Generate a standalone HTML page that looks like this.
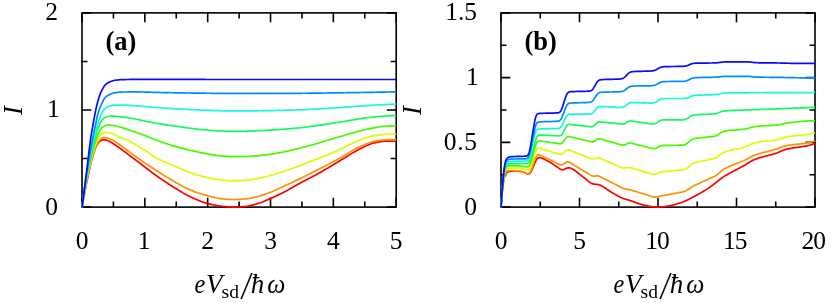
<!DOCTYPE html>
<html><head><meta charset="utf-8"><title>I vs eVsd</title>
<style>
html,body{margin:0;padding:0;background:#fff;}
body{width:831px;height:303px;overflow:hidden;font-family:"Liberation Serif",serif;}
svg{display:block;will-change:transform;}
.t{font-family:"Liberation Serif",serif;font-size:25.5px;fill:#000;}
.ti{font-family:"Liberation Serif",serif;font-style:italic;font-size:27px;fill:#000;}
.ti .sub{font-style:normal;font-size:19.5px;}
.ti .sl{font-style:italic;font-size:31px;}
.pl{font-family:"Liberation Serif",serif;font-weight:bold;font-size:26.5px;fill:#000;}
.c{fill:none;stroke-width:1.7;stroke-linejoin:round;stroke-linecap:butt;}
</style></head><body>
<svg width="831" height="303" viewBox="0 0 831 303">
<rect width="831" height="303" fill="#fff"/>
<g id="pa">
<path d="M82.00,207.1v-9.3M82.00,12.9v9.3M144.84,207.1v-9.3M144.84,12.9v9.3M207.68,207.1v-9.3M207.68,12.9v9.3M270.52,207.1v-9.3M270.52,12.9v9.3M333.36,207.1v-9.3M333.36,12.9v9.3M396.20,207.1v-9.3M396.20,12.9v9.3M113.42,207.1v-5.5M113.42,12.9v5.5M176.26,207.1v-5.5M176.26,12.9v5.5M239.10,207.1v-5.5M239.10,12.9v5.5M301.94,207.1v-5.5M301.94,12.9v5.5M364.78,207.1v-5.5M364.78,12.9v5.5M82.0,207.10h9.3M396.2,207.10h-9.3M82.0,110.00h9.3M396.2,110.00h-9.3M82.0,12.90h9.3M396.2,12.90h-9.3M82.0,158.55h5.5M396.2,158.55h-5.5M82.0,61.45h5.5M396.2,61.45h-5.5" stroke="#000" stroke-width="1.6" fill="none"/>
<rect x="82.0" y="12.9" width="314.20" height="194.20" fill="none" stroke="#000" stroke-width="1.6"/>
<clipPath id="cpa"><rect x="81.20" y="12.10" width="315.80" height="195.80"/></clipPath>
<g clip-path="url(#cpa)">
<path class="c" stroke="#ff0000" d="M82.00,207.10L82.64,203.57L83.28,200.10L83.93,196.67L84.58,193.30L85.23,189.97L85.88,186.68L86.53,183.43L87.19,180.22L87.85,177.03L88.51,173.88L89.17,170.75L89.84,167.65L90.51,164.70L91.17,162.07L91.85,159.60L92.52,157.26L93.20,155.02L93.87,152.78L94.55,150.59L95.24,148.60L95.92,146.99L96.61,145.60L97.30,144.32L97.99,143.22L98.68,142.34L99.38,141.71L100.07,141.14L100.77,140.62L101.48,140.19L102.18,139.88L102.89,139.72L103.59,139.73L104.30,139.81L105.02,139.94L105.73,140.12L106.45,140.33L107.17,140.56L107.89,140.80L108.61,141.05L109.34,141.36L110.07,141.73L110.80,142.14L111.53,142.59L112.26,143.06L113.00,143.53L113.74,143.99L114.48,144.46L115.22,144.96L115.97,145.47L116.71,145.99L117.46,146.51L118.21,147.04L118.97,147.58L119.72,148.11L120.48,148.66L121.24,149.20L122.00,149.76L122.77,150.32L123.53,150.88L124.30,151.45L125.07,152.02L125.85,152.59L126.62,153.17L127.40,153.75L128.18,154.34L128.96,154.93L129.75,155.52L130.53,156.11L131.32,156.71L132.11,157.31L132.90,157.91L133.70,158.51L134.49,159.12L135.29,159.72L136.10,160.33L136.90,160.93L137.70,161.54L138.51,162.15L139.32,162.76L140.13,163.38L140.95,164.00L141.76,164.63L142.58,165.26L143.40,165.90L144.23,166.54L145.05,167.18L145.88,167.82L146.71,168.46L147.54,169.11L148.37,169.75L149.21,170.39L150.05,171.03L150.89,171.66L151.73,172.30L152.57,172.93L153.42,173.55L154.27,174.17L155.12,174.79L155.97,175.39L156.83,176.00L157.69,176.60L158.55,177.20L159.41,177.80L160.27,178.40L161.14,179.00L162.01,179.59L162.88,180.18L163.75,180.78L164.62,181.37L165.50,181.95L166.38,182.54L167.26,183.12L168.14,183.70L169.03,184.27L169.92,184.85L170.81,185.42L171.70,185.98L172.59,186.55L173.49,187.11L174.39,187.66L175.29,188.21L176.19,188.76L177.10,189.31L178.00,189.86L178.91,190.41L179.82,190.96L180.74,191.51L181.65,192.06L182.57,192.60L183.49,193.14L184.41,193.67L185.34,194.19L186.27,194.71L187.19,195.21L188.12,195.70L189.06,196.18L189.99,196.65L190.93,197.09L191.87,197.53L192.81,197.95L193.76,198.37L194.70,198.79L195.65,199.21L196.60,199.62L197.55,200.02L198.51,200.41L199.46,200.80L200.42,201.17L201.38,201.53L202.35,201.88L203.31,202.22L204.28,202.54L205.25,202.84L206.22,203.12L207.20,203.38L208.17,203.63L209.15,203.87L210.13,204.10L211.12,204.33L212.10,204.55L213.09,204.77L214.08,204.97L215.07,205.17L216.06,205.36L217.06,205.54L218.06,205.72L219.06,205.88L220.06,206.02L221.06,206.16L222.07,206.28L223.08,206.39L224.09,206.49L225.10,206.59L226.12,206.68L227.13,206.77L228.15,206.86L229.18,206.94L230.20,207.00L231.23,207.05L232.25,207.09L233.28,207.10L234.32,207.10L235.35,207.08L236.39,207.05L237.43,207.00L238.47,206.95L239.51,206.89L240.56,206.82L241.60,206.74L242.65,206.66L243.71,206.57L244.76,206.48L245.82,206.38L246.87,206.25L247.94,206.09L249.00,205.90L250.06,205.68L251.13,205.43L252.20,205.17L253.27,204.88L254.34,204.58L255.42,204.27L256.50,203.95L257.58,203.62L258.66,203.29L259.74,202.95L260.83,202.58L261.92,202.18L263.01,201.75L264.10,201.30L265.20,200.83L266.30,200.34L267.40,199.85L268.50,199.36L269.60,198.86L270.71,198.38L271.82,197.89L272.93,197.40L274.04,196.91L275.15,196.41L276.27,195.90L277.39,195.38L278.51,194.86L279.63,194.33L280.76,193.78L281.89,193.23L283.02,192.67L284.15,192.09L285.28,191.49L286.42,190.88L287.56,190.26L288.70,189.62L289.84,188.97L290.98,188.32L292.13,187.66L293.28,187.00L294.43,186.34L295.59,185.67L296.74,185.02L297.90,184.36L299.06,183.72L300.22,183.08L301.39,182.46L302.55,181.83L303.72,181.21L304.89,180.60L306.06,179.98L307.24,179.37L308.42,178.76L309.60,178.15L310.78,177.53L311.96,176.91L313.15,176.29L314.34,175.66L315.53,175.02L316.72,174.38L317.91,173.72L319.11,173.06L320.31,172.39L321.51,171.70L322.71,171.01L323.92,170.31L325.13,169.60L326.34,168.88L327.55,168.16L328.76,167.43L329.98,166.70L331.20,165.96L332.42,165.23L333.64,164.49L334.86,163.75L336.09,163.01L337.32,162.27L338.55,161.53L339.79,160.80L341.02,160.05L342.26,159.30L343.50,158.53L344.74,157.75L345.99,156.97L347.23,156.19L348.48,155.41L349.73,154.63L350.98,153.87L352.24,153.11L353.50,152.37L354.76,151.64L356.02,150.94L357.28,150.26L358.55,149.61L359.82,148.99L361.09,148.35L362.36,147.71L363.63,147.07L364.91,146.44L366.19,145.83L367.47,145.24L368.75,144.68L370.04,144.17L371.33,143.70L372.62,143.28L373.91,142.93L375.20,142.65L376.50,142.38L377.80,142.13L379.10,141.88L380.40,141.66L381.70,141.46L383.01,141.30L384.32,141.17L385.63,141.09L386.95,141.07L388.26,141.07L389.58,141.08L390.90,141.09L392.22,141.11L393.54,141.14L394.87,141.20L396.20,141.27"/>
<path class="c" stroke="#ff9100" d="M82.00,207.10L82.64,203.15L83.28,199.30L83.93,195.55L84.58,191.90L85.23,188.36L85.88,184.93L86.53,181.61L87.19,178.39L87.85,175.28L88.51,172.29L89.17,169.41L89.84,166.65L90.51,164.00L91.17,161.47L91.85,159.06L92.52,156.75L93.20,154.55L93.87,152.41L94.55,150.33L95.24,148.37L95.92,146.59L96.61,145.06L97.30,143.67L97.99,142.37L98.68,141.23L99.38,140.31L100.07,139.66L100.77,139.07L101.48,138.54L102.18,138.11L102.89,137.80L103.59,137.68L104.30,137.69L105.02,137.75L105.73,137.85L106.45,137.99L107.17,138.16L107.89,138.35L108.61,138.56L109.34,138.79L110.07,139.03L110.80,139.27L111.53,139.53L112.26,139.86L113.00,140.25L113.74,140.69L114.48,141.16L115.22,141.67L115.97,142.19L116.71,142.71L117.46,143.23L118.21,143.73L118.97,144.24L119.72,144.76L120.48,145.29L121.24,145.84L122.00,146.40L122.77,146.96L123.53,147.53L124.30,148.11L125.07,148.69L125.85,149.28L126.62,149.87L127.40,150.46L128.18,151.05L128.96,151.64L129.75,152.22L130.53,152.80L131.32,153.37L132.11,153.95L132.90,154.53L133.70,155.11L134.49,155.70L135.29,156.28L136.10,156.86L136.90,157.44L137.70,158.02L138.51,158.60L139.32,159.18L140.13,159.75L140.95,160.31L141.76,160.87L142.58,161.43L143.40,161.99L144.23,162.54L145.05,163.09L145.88,163.64L146.71,164.19L147.54,164.74L148.37,165.28L149.21,165.83L150.05,166.37L150.89,166.92L151.73,167.46L152.57,168.01L153.42,168.55L154.27,169.09L155.12,169.64L155.97,170.19L156.83,170.73L157.69,171.28L158.55,171.83L159.41,172.38L160.27,172.94L161.14,173.50L162.01,174.05L162.88,174.61L163.75,175.17L164.62,175.73L165.50,176.28L166.38,176.84L167.26,177.39L168.14,177.94L169.03,178.49L169.92,179.03L170.81,179.57L171.70,180.10L172.59,180.63L173.49,181.15L174.39,181.67L175.29,182.20L176.19,182.73L177.10,183.26L178.00,183.78L178.91,184.30L179.82,184.82L180.74,185.33L181.65,185.84L182.57,186.33L183.49,186.82L184.41,187.29L185.34,187.75L186.27,188.19L187.19,188.62L188.12,189.03L189.06,189.44L189.99,189.84L190.93,190.23L191.87,190.62L192.81,191.00L193.76,191.37L194.70,191.74L195.65,192.10L196.60,192.45L197.55,192.79L198.51,193.12L199.46,193.44L200.42,193.75L201.38,194.05L202.35,194.34L203.31,194.61L204.28,194.88L205.25,195.14L206.22,195.41L207.20,195.67L208.17,195.94L209.15,196.20L210.13,196.45L211.12,196.71L212.10,196.95L213.09,197.19L214.08,197.42L215.07,197.64L216.06,197.84L217.06,198.04L218.06,198.23L219.06,198.40L220.06,198.55L221.06,198.69L222.07,198.81L223.08,198.92L224.09,199.00L225.10,199.09L226.12,199.17L227.13,199.25L228.15,199.33L229.18,199.39L230.20,199.44L231.23,199.49L232.25,199.51L233.28,199.53L234.32,199.52L235.35,199.51L236.39,199.48L237.43,199.44L238.47,199.40L239.51,199.35L240.56,199.29L241.60,199.22L242.65,199.15L243.71,199.07L244.76,198.99L245.82,198.91L246.87,198.80L247.94,198.66L249.00,198.49L250.06,198.31L251.13,198.10L252.20,197.87L253.27,197.63L254.34,197.37L255.42,197.10L256.50,196.83L257.58,196.55L258.66,196.27L259.74,195.99L260.83,195.68L261.92,195.35L263.01,195.00L264.10,194.64L265.20,194.25L266.30,193.85L267.40,193.44L268.50,193.02L269.60,192.60L270.71,192.17L271.82,191.73L272.93,191.26L274.04,190.78L275.15,190.29L276.27,189.78L277.39,189.27L278.51,188.75L279.63,188.22L280.76,187.69L281.89,187.17L283.02,186.65L284.15,186.13L285.28,185.60L286.42,185.08L287.56,184.55L288.70,184.02L289.84,183.49L290.98,182.95L292.13,182.41L293.28,181.87L294.43,181.32L295.59,180.78L296.74,180.22L297.90,179.67L299.06,179.11L300.22,178.54L301.39,177.98L302.55,177.40L303.72,176.83L304.89,176.25L306.06,175.67L307.24,175.08L308.42,174.49L309.60,173.90L310.78,173.31L311.96,172.71L313.15,172.11L314.34,171.50L315.53,170.90L316.72,170.29L317.91,169.67L319.11,169.06L320.31,168.44L321.51,167.83L322.71,167.21L323.92,166.59L325.13,165.96L326.34,165.34L327.55,164.71L328.76,164.08L329.98,163.44L331.20,162.80L332.42,162.16L333.64,161.51L334.86,160.85L336.09,160.19L337.32,159.53L338.55,158.86L339.79,158.18L341.02,157.48L342.26,156.76L343.50,156.01L344.74,155.25L345.99,154.48L347.23,153.70L348.48,152.93L349.73,152.15L350.98,151.38L352.24,150.63L353.50,149.90L354.76,149.19L356.02,148.51L357.28,147.86L358.55,147.26L359.82,146.69L361.09,146.12L362.36,145.56L363.63,145.01L364.91,144.46L366.19,143.94L367.47,143.44L368.75,142.97L370.04,142.53L371.33,142.12L372.62,141.76L373.91,141.45L375.20,141.20L376.50,140.95L377.80,140.71L379.10,140.48L380.40,140.27L381.70,140.08L383.01,139.93L384.32,139.81L385.63,139.73L386.95,139.71L388.26,139.71L389.58,139.71L390.90,139.71L392.22,139.71L393.54,139.71L394.87,139.71L396.20,139.71"/>
<path class="c" stroke="#d7ff00" d="M82.00,207.10L82.64,202.98L83.28,198.92L83.93,194.95L84.58,191.08L85.23,187.31L85.88,183.67L86.53,180.17L87.19,176.82L87.85,173.64L88.51,170.64L89.17,167.80L89.84,165.01L90.51,162.26L91.17,159.57L91.85,156.95L92.52,154.42L93.20,151.98L93.87,149.65L94.55,147.45L95.24,145.37L95.92,143.45L96.61,141.68L97.30,140.09L97.99,138.72L98.68,137.59L99.38,136.58L100.07,135.56L100.77,134.63L101.48,133.91L102.18,133.48L102.89,133.11L103.59,132.80L104.30,132.55L105.02,132.39L105.73,132.33L106.45,132.36L107.17,132.42L107.89,132.51L108.61,132.62L109.34,132.76L110.07,132.91L110.80,133.07L111.53,133.26L112.26,133.52L113.00,133.85L113.74,134.23L114.48,134.64L115.22,135.06L115.97,135.48L116.71,135.88L117.46,136.24L118.21,136.56L118.97,136.85L119.72,137.14L120.48,137.42L121.24,137.69L122.00,137.97L122.77,138.26L123.53,138.55L124.30,138.87L125.07,139.20L125.85,139.54L126.62,139.89L127.40,140.25L128.18,140.62L128.96,141.00L129.75,141.39L130.53,141.79L131.32,142.20L132.11,142.63L132.90,143.06L133.70,143.51L134.49,143.97L135.29,144.43L136.10,144.91L136.90,145.39L137.70,145.88L138.51,146.38L139.32,146.88L140.13,147.38L140.95,147.89L141.76,148.40L142.58,148.91L143.40,149.43L144.23,149.94L145.05,150.46L145.88,151.00L146.71,151.56L147.54,152.12L148.37,152.69L149.21,153.26L150.05,153.84L150.89,154.42L151.73,154.99L152.57,155.55L153.42,156.10L154.27,156.64L155.12,157.16L155.97,157.67L156.83,158.15L157.69,158.60L158.55,159.04L159.41,159.47L160.27,159.90L161.14,160.31L162.01,160.71L162.88,161.11L163.75,161.50L164.62,161.88L165.50,162.26L166.38,162.63L167.26,163.00L168.14,163.36L169.03,163.73L169.92,164.09L170.81,164.46L171.70,164.82L172.59,165.19L173.49,165.56L174.39,165.93L175.29,166.30L176.19,166.69L177.10,167.08L178.00,167.47L178.91,167.86L179.82,168.26L180.74,168.66L181.65,169.06L182.57,169.46L183.49,169.86L184.41,170.25L185.34,170.64L186.27,171.03L187.19,171.41L188.12,171.77L189.06,172.13L189.99,172.48L190.93,172.82L191.87,173.15L192.81,173.46L193.76,173.78L194.70,174.09L195.65,174.40L196.60,174.71L197.55,175.01L198.51,175.30L199.46,175.59L200.42,175.87L201.38,176.15L202.35,176.41L203.31,176.67L204.28,176.91L205.25,177.15L206.22,177.37L207.20,177.58L208.17,177.78L209.15,177.97L210.13,178.16L211.12,178.34L212.10,178.53L213.09,178.70L214.08,178.87L215.07,179.04L216.06,179.19L217.06,179.34L218.06,179.49L219.06,179.62L220.06,179.75L221.06,179.87L222.07,179.98L223.08,180.08L224.09,180.17L225.10,180.26L226.12,180.36L227.13,180.45L228.15,180.53L229.18,180.61L230.20,180.69L231.23,180.75L232.25,180.81L233.28,180.85L234.32,180.87L235.35,180.88L236.39,180.88L237.43,180.85L238.47,180.82L239.51,180.77L240.56,180.71L241.60,180.64L242.65,180.56L243.71,180.47L244.76,180.38L245.82,180.27L246.87,180.17L247.94,180.06L249.00,179.94L250.06,179.83L251.13,179.71L252.20,179.58L253.27,179.42L254.34,179.25L255.42,179.05L256.50,178.84L257.58,178.62L258.66,178.38L259.74,178.13L260.83,177.87L261.92,177.60L263.01,177.33L264.10,177.06L265.20,176.78L266.30,176.51L267.40,176.24L268.50,175.96L269.60,175.67L270.71,175.38L271.82,175.07L272.93,174.76L274.04,174.44L275.15,174.11L276.27,173.78L277.39,173.44L278.51,173.10L279.63,172.75L280.76,172.40L281.89,172.04L283.02,171.68L284.15,171.32L285.28,170.94L286.42,170.56L287.56,170.17L288.70,169.77L289.84,169.37L290.98,168.96L292.13,168.54L293.28,168.12L294.43,167.70L295.59,167.28L296.74,166.84L297.90,166.40L299.06,165.95L300.22,165.50L301.39,165.04L302.55,164.58L303.72,164.11L304.89,163.65L306.06,163.18L307.24,162.72L308.42,162.26L309.60,161.81L310.78,161.36L311.96,160.92L313.15,160.48L314.34,160.04L315.53,159.59L316.72,159.15L317.91,158.69L319.11,158.23L320.31,157.76L321.51,157.28L322.71,156.80L323.92,156.31L325.13,155.82L326.34,155.32L327.55,154.82L328.76,154.32L329.98,153.81L331.20,153.30L332.42,152.78L333.64,152.25L334.86,151.72L336.09,151.19L337.32,150.65L338.55,150.10L339.79,149.55L341.02,148.98L342.26,148.39L343.50,147.78L344.74,147.15L345.99,146.52L347.23,145.87L348.48,145.23L349.73,144.58L350.98,143.95L352.24,143.32L353.50,142.71L354.76,142.12L356.02,141.55L357.28,141.01L358.55,140.51L359.82,140.04L361.09,139.57L362.36,139.10L363.63,138.63L364.91,138.18L366.19,137.74L367.47,137.32L368.75,136.92L370.04,136.56L371.33,136.22L372.62,135.93L373.91,135.68L375.20,135.48L376.50,135.30L377.80,135.13L379.10,134.98L380.40,134.83L381.70,134.70L383.01,134.59L384.32,134.49L385.63,134.42L386.95,134.37L388.26,134.32L389.58,134.28L390.90,134.25L392.22,134.22L393.54,134.20L394.87,134.18L396.20,134.18"/>
<path class="c" stroke="#46fa00" d="M82.00,207.10L82.64,202.79L83.28,198.55L83.93,194.41L84.58,190.37L85.23,186.44L85.88,182.64L86.53,178.98L87.19,175.47L87.85,172.12L88.51,168.95L89.17,165.89L89.84,162.92L90.51,160.04L91.17,157.25L91.85,154.54L92.52,151.92L93.20,149.38L93.87,146.93L94.55,144.57L95.24,142.29L95.92,140.10L96.61,138.02L97.30,136.13L97.99,134.45L98.68,132.89L99.38,131.44L100.07,130.21L100.77,129.23L101.48,128.35L102.18,127.57L102.89,126.92L103.59,126.45L104.30,126.11L105.02,125.79L105.73,125.52L106.45,125.31L107.17,125.18L107.89,125.15L108.61,125.16L109.34,125.19L110.07,125.23L110.80,125.28L111.53,125.34L112.26,125.40L113.00,125.47L113.74,125.55L114.48,125.65L115.22,125.78L115.97,125.94L116.71,126.12L117.46,126.32L118.21,126.53L118.97,126.74L119.72,126.96L120.48,127.16L121.24,127.38L122.00,127.61L122.77,127.84L123.53,128.09L124.30,128.34L125.07,128.60L125.85,128.86L126.62,129.13L127.40,129.40L128.18,129.67L128.96,129.94L129.75,130.21L130.53,130.48L131.32,130.75L132.11,131.02L132.90,131.29L133.70,131.57L134.49,131.84L135.29,132.12L136.10,132.40L136.90,132.68L137.70,132.96L138.51,133.25L139.32,133.54L140.13,133.83L140.95,134.12L141.76,134.42L142.58,134.72L143.40,135.02L144.23,135.32L145.05,135.63L145.88,135.95L146.71,136.27L147.54,136.60L148.37,136.93L149.21,137.27L150.05,137.61L150.89,137.94L151.73,138.28L152.57,138.62L153.42,138.95L154.27,139.29L155.12,139.61L155.97,139.94L156.83,140.25L157.69,140.56L158.55,140.87L159.41,141.18L160.27,141.49L161.14,141.79L162.01,142.10L162.88,142.41L163.75,142.71L164.62,143.01L165.50,143.31L166.38,143.61L167.26,143.91L168.14,144.20L169.03,144.49L169.92,144.78L170.81,145.06L171.70,145.34L172.59,145.61L173.49,145.88L174.39,146.15L175.29,146.40L176.19,146.66L177.10,146.91L178.00,147.16L178.91,147.40L179.82,147.65L180.74,147.90L181.65,148.14L182.57,148.38L183.49,148.62L184.41,148.86L185.34,149.09L186.27,149.33L187.19,149.56L188.12,149.79L189.06,150.02L189.99,150.24L190.93,150.47L191.87,150.69L192.81,150.91L193.76,151.12L194.70,151.34L195.65,151.55L196.60,151.76L197.55,151.96L198.51,152.17L199.46,152.36L200.42,152.56L201.38,152.76L202.35,152.95L203.31,153.13L204.28,153.32L205.25,153.50L206.22,153.68L207.20,153.85L208.17,154.03L209.15,154.21L210.13,154.39L211.12,154.57L212.10,154.74L213.09,154.90L214.08,155.06L215.07,155.21L216.06,155.36L217.06,155.49L218.06,155.61L219.06,155.72L220.06,155.81L221.06,155.90L222.07,155.99L223.08,156.07L224.09,156.15L225.10,156.23L226.12,156.31L227.13,156.38L228.15,156.45L229.18,156.51L230.20,156.57L231.23,156.61L232.25,156.65L233.28,156.68L234.32,156.70L235.35,156.71L236.39,156.70L237.43,156.69L238.47,156.68L239.51,156.66L240.56,156.64L241.60,156.61L242.65,156.58L243.71,156.55L244.76,156.51L245.82,156.47L246.87,156.43L247.94,156.39L249.00,156.34L250.06,156.29L251.13,156.24L252.20,156.19L253.27,156.13L254.34,156.06L255.42,155.97L256.50,155.88L257.58,155.78L258.66,155.67L259.74,155.55L260.83,155.43L261.92,155.30L263.01,155.18L264.10,155.05L265.20,154.92L266.30,154.78L267.40,154.64L268.50,154.49L269.60,154.33L270.71,154.17L271.82,154.00L272.93,153.83L274.04,153.65L275.15,153.47L276.27,153.28L277.39,153.08L278.51,152.88L279.63,152.68L280.76,152.48L281.89,152.26L283.02,152.04L284.15,151.80L285.28,151.56L286.42,151.32L287.56,151.06L288.70,150.81L289.84,150.54L290.98,150.28L292.13,150.01L293.28,149.74L294.43,149.47L295.59,149.19L296.74,148.92L297.90,148.64L299.06,148.35L300.22,148.06L301.39,147.77L302.55,147.47L303.72,147.17L304.89,146.86L306.06,146.55L307.24,146.24L308.42,145.92L309.60,145.60L310.78,145.28L311.96,144.95L313.15,144.61L314.34,144.27L315.53,143.92L316.72,143.57L317.91,143.22L319.11,142.86L320.31,142.50L321.51,142.13L322.71,141.77L323.92,141.40L325.13,141.03L326.34,140.66L327.55,140.29L328.76,139.92L329.98,139.55L331.20,139.18L332.42,138.81L333.64,138.44L334.86,138.08L336.09,137.72L337.32,137.36L338.55,137.01L339.79,136.66L341.02,136.31L342.26,135.96L343.50,135.60L344.74,135.24L345.99,134.88L347.23,134.52L348.48,134.16L349.73,133.79L350.98,133.43L352.24,133.07L353.50,132.71L354.76,132.36L356.02,132.01L357.28,131.66L358.55,131.33L359.82,130.99L361.09,130.67L362.36,130.35L363.63,130.04L364.91,129.75L366.19,129.46L367.47,129.18L368.75,128.92L370.04,128.67L371.33,128.41L372.62,128.16L373.91,127.90L375.20,127.65L376.50,127.42L377.80,127.19L379.10,126.98L380.40,126.78L381.70,126.61L383.01,126.47L384.32,126.35L385.63,126.26L386.95,126.18L388.26,126.10L389.58,126.03L390.90,125.96L392.22,125.91L393.54,125.86L394.87,125.84L396.20,125.83"/>
<path class="c" stroke="#14fa5a" d="M82.00,207.10L82.64,202.56L83.28,198.12L83.93,193.76L84.58,189.52L85.23,185.40L85.88,181.41L86.53,177.56L87.19,173.87L87.85,170.34L88.51,166.99L89.17,163.78L89.84,160.71L90.51,157.74L91.17,154.86L91.85,152.05L92.52,149.27L93.20,146.52L93.87,143.76L94.55,140.97L95.24,138.12L95.92,135.24L96.61,132.70L97.30,130.51L97.99,128.52L98.68,126.71L99.38,125.08L100.07,123.52L100.77,122.09L101.48,120.91L102.18,120.03L102.89,119.25L103.59,118.55L104.30,117.95L105.02,117.49L105.73,117.17L106.45,116.94L107.17,116.72L107.89,116.53L108.61,116.37L109.34,116.24L110.07,116.16L110.80,116.12L111.53,116.12L112.26,116.14L113.00,116.17L113.74,116.21L114.48,116.26L115.22,116.32L115.97,116.38L116.71,116.45L117.46,116.53L118.21,116.60L118.97,116.68L119.72,116.75L120.48,116.82L121.24,116.90L122.00,116.98L122.77,117.06L123.53,117.15L124.30,117.24L125.07,117.34L125.85,117.44L126.62,117.54L127.40,117.65L128.18,117.76L128.96,117.87L129.75,117.99L130.53,118.11L131.32,118.24L132.11,118.37L132.90,118.51L133.70,118.66L134.49,118.82L135.29,118.99L136.10,119.16L136.90,119.33L137.70,119.51L138.51,119.69L139.32,119.87L140.13,120.05L140.95,120.23L141.76,120.41L142.58,120.58L143.40,120.75L144.23,120.92L145.05,121.08L145.88,121.24L146.71,121.41L147.54,121.58L148.37,121.74L149.21,121.91L150.05,122.07L150.89,122.24L151.73,122.40L152.57,122.56L153.42,122.72L154.27,122.88L155.12,123.03L155.97,123.18L156.83,123.33L157.69,123.48L158.55,123.62L159.41,123.76L160.27,123.90L161.14,124.04L162.01,124.17L162.88,124.31L163.75,124.44L164.62,124.57L165.50,124.70L166.38,124.83L167.26,124.96L168.14,125.09L169.03,125.22L169.92,125.35L170.81,125.47L171.70,125.60L172.59,125.73L173.49,125.86L174.39,125.98L175.29,126.11L176.19,126.24L177.10,126.37L178.00,126.51L178.91,126.64L179.82,126.77L180.74,126.91L181.65,127.04L182.57,127.18L183.49,127.31L184.41,127.45L185.34,127.58L186.27,127.72L187.19,127.85L188.12,127.98L189.06,128.11L189.99,128.23L190.93,128.36L191.87,128.48L192.81,128.59L193.76,128.71L194.70,128.82L195.65,128.92L196.60,129.03L197.55,129.13L198.51,129.24L199.46,129.34L200.42,129.44L201.38,129.54L202.35,129.64L203.31,129.74L204.28,129.83L205.25,129.93L206.22,130.02L207.20,130.10L208.17,130.19L209.15,130.27L210.13,130.34L211.12,130.41L212.10,130.48L213.09,130.54L214.08,130.59L215.07,130.64L216.06,130.70L217.06,130.75L218.06,130.80L219.06,130.85L220.06,130.90L221.06,130.95L222.07,131.00L223.08,131.05L224.09,131.09L225.10,131.13L226.12,131.17L227.13,131.21L228.15,131.24L229.18,131.27L230.20,131.30L231.23,131.32L232.25,131.34L233.28,131.35L234.32,131.36L235.35,131.36L236.39,131.36L237.43,131.35L238.47,131.34L239.51,131.33L240.56,131.32L241.60,131.30L242.65,131.27L243.71,131.25L244.76,131.22L245.82,131.19L246.87,131.16L247.94,131.12L249.00,131.08L250.06,131.04L251.13,131.00L252.20,130.96L253.27,130.91L254.34,130.87L255.42,130.82L256.50,130.77L257.58,130.72L258.66,130.68L259.74,130.63L260.83,130.58L261.92,130.53L263.01,130.48L264.10,130.43L265.20,130.38L266.30,130.32L267.40,130.27L268.50,130.21L269.60,130.15L270.71,130.09L271.82,130.03L272.93,129.96L274.04,129.89L275.15,129.82L276.27,129.75L277.39,129.67L278.51,129.60L279.63,129.52L280.76,129.43L281.89,129.35L283.02,129.26L284.15,129.18L285.28,129.09L286.42,128.99L287.56,128.90L288.70,128.81L289.84,128.71L290.98,128.61L292.13,128.51L293.28,128.41L294.43,128.31L295.59,128.20L296.74,128.09L297.90,127.98L299.06,127.86L300.22,127.73L301.39,127.60L302.55,127.46L303.72,127.32L304.89,127.18L306.06,127.03L307.24,126.89L308.42,126.74L309.60,126.59L310.78,126.44L311.96,126.28L313.15,126.12L314.34,125.96L315.53,125.79L316.72,125.63L317.91,125.46L319.11,125.28L320.31,125.11L321.51,124.93L322.71,124.75L323.92,124.57L325.13,124.38L326.34,124.20L327.55,124.01L328.76,123.82L329.98,123.63L331.20,123.44L332.42,123.26L333.64,123.06L334.86,122.87L336.09,122.68L337.32,122.49L338.55,122.30L339.79,122.12L341.02,121.92L342.26,121.73L343.50,121.52L344.74,121.32L345.99,121.11L347.23,120.89L348.48,120.68L349.73,120.46L350.98,120.24L352.24,120.03L353.50,119.81L354.76,119.59L356.02,119.38L357.28,119.17L358.55,118.96L359.82,118.76L361.09,118.56L362.36,118.37L363.63,118.18L364.91,118.01L366.19,117.84L367.47,117.68L368.75,117.52L370.04,117.38L371.33,117.24L372.62,117.11L373.91,116.97L375.20,116.84L376.50,116.71L377.80,116.59L379.10,116.48L380.40,116.36L381.70,116.26L383.01,116.16L384.32,116.07L385.63,115.99L386.95,115.91L388.26,115.84L389.58,115.78L390.90,115.72L392.22,115.66L393.54,115.61L394.87,115.57L396.20,115.53"/>
<path class="c" stroke="#14fadc" d="M82.00,207.10L82.64,202.31L83.28,197.61L83.93,193.01L84.58,188.54L85.23,184.19L85.88,179.98L86.53,175.91L87.19,172.01L87.85,168.28L88.51,164.68L89.17,161.20L89.84,157.83L90.51,154.56L91.17,151.38L91.85,148.28L92.52,145.25L93.20,142.28L93.87,139.36L94.55,136.55L95.24,133.87L95.92,131.26L96.61,128.69L97.30,126.07L97.99,123.48L98.68,121.08L99.38,118.99L100.07,117.10L100.77,115.37L101.48,113.83L102.18,112.49L102.89,111.25L103.59,110.17L104.30,109.29L105.02,108.59L105.73,107.94L106.45,107.36L107.17,106.87L107.89,106.50L108.61,106.25L109.34,106.04L110.07,105.85L110.80,105.67L111.53,105.51L112.26,105.38L113.00,105.27L113.74,105.20L114.48,105.15L115.22,105.14L115.97,105.14L116.71,105.14L117.46,105.14L118.21,105.14L118.97,105.14L119.72,105.14L120.48,105.14L121.24,105.14L122.00,105.14L122.77,105.14L123.53,105.14L124.30,105.15L125.07,105.15L125.85,105.17L126.62,105.19L127.40,105.22L128.18,105.26L128.96,105.30L129.75,105.35L130.53,105.40L131.32,105.46L132.11,105.52L132.90,105.58L133.70,105.64L134.49,105.70L135.29,105.77L136.10,105.83L136.90,105.89L137.70,105.94L138.51,106.00L139.32,106.06L140.13,106.12L140.95,106.18L141.76,106.25L142.58,106.32L143.40,106.39L144.23,106.46L145.05,106.53L145.88,106.60L146.71,106.68L147.54,106.75L148.37,106.83L149.21,106.90L150.05,106.98L150.89,107.05L151.73,107.12L152.57,107.20L153.42,107.27L154.27,107.34L155.12,107.41L155.97,107.48L156.83,107.54L157.69,107.61L158.55,107.67L159.41,107.73L160.27,107.80L161.14,107.86L162.01,107.92L162.88,107.99L163.75,108.05L164.62,108.11L165.50,108.17L166.38,108.23L167.26,108.29L168.14,108.35L169.03,108.41L169.92,108.47L170.81,108.53L171.70,108.58L172.59,108.64L173.49,108.69L174.39,108.74L175.29,108.79L176.19,108.84L177.10,108.89L178.00,108.94L178.91,108.99L179.82,109.04L180.74,109.09L181.65,109.14L182.57,109.18L183.49,109.23L184.41,109.28L185.34,109.32L186.27,109.37L187.19,109.42L188.12,109.46L189.06,109.50L189.99,109.55L190.93,109.59L191.87,109.63L192.81,109.68L193.76,109.72L194.70,109.76L195.65,109.80L196.60,109.84L197.55,109.88L198.51,109.92L199.46,109.96L200.42,110.00L201.38,110.03L202.35,110.07L203.31,110.11L204.28,110.14L205.25,110.18L206.22,110.21L207.20,110.24L208.17,110.28L209.15,110.32L210.13,110.35L211.12,110.39L212.10,110.43L213.09,110.46L214.08,110.50L215.07,110.54L216.06,110.58L217.06,110.61L218.06,110.65L219.06,110.68L220.06,110.72L221.06,110.75L222.07,110.78L223.08,110.81L224.09,110.84L225.10,110.86L226.12,110.89L227.13,110.91L228.15,110.92L229.18,110.94L230.20,110.95L231.23,110.96L232.25,110.97L233.28,110.97L234.32,110.97L235.35,110.97L236.39,110.97L237.43,110.96L238.47,110.96L239.51,110.96L240.56,110.95L241.60,110.94L242.65,110.94L243.71,110.93L244.76,110.92L245.82,110.91L246.87,110.90L247.94,110.89L249.00,110.88L250.06,110.87L251.13,110.86L252.20,110.84L253.27,110.83L254.34,110.82L255.42,110.80L256.50,110.79L257.58,110.78L258.66,110.76L259.74,110.75L260.83,110.73L261.92,110.72L263.01,110.70L264.10,110.69L265.20,110.68L266.30,110.66L267.40,110.64L268.50,110.63L269.60,110.61L270.71,110.59L271.82,110.57L272.93,110.55L274.04,110.53L275.15,110.51L276.27,110.48L277.39,110.46L278.51,110.44L279.63,110.41L280.76,110.38L281.89,110.36L283.02,110.33L284.15,110.30L285.28,110.27L286.42,110.24L287.56,110.21L288.70,110.18L289.84,110.15L290.98,110.12L292.13,110.09L293.28,110.05L294.43,110.02L295.59,109.98L296.74,109.95L297.90,109.91L299.06,109.87L300.22,109.82L301.39,109.78L302.55,109.73L303.72,109.68L304.89,109.63L306.06,109.58L307.24,109.52L308.42,109.47L309.60,109.41L310.78,109.35L311.96,109.30L313.15,109.23L314.34,109.17L315.53,109.11L316.72,109.04L317.91,108.97L319.11,108.90L320.31,108.83L321.51,108.76L322.71,108.68L323.92,108.61L325.13,108.53L326.34,108.45L327.55,108.37L328.76,108.30L329.98,108.22L331.20,108.14L332.42,108.05L333.64,107.97L334.86,107.89L336.09,107.81L337.32,107.73L338.55,107.64L339.79,107.56L341.02,107.48L342.26,107.39L343.50,107.31L344.74,107.22L345.99,107.12L347.23,107.03L348.48,106.94L349.73,106.84L350.98,106.74L352.24,106.65L353.50,106.55L354.76,106.45L356.02,106.35L357.28,106.26L358.55,106.16L359.82,106.07L361.09,105.98L362.36,105.88L363.63,105.79L364.91,105.71L366.19,105.62L367.47,105.54L368.75,105.46L370.04,105.39L371.33,105.31L372.62,105.24L373.91,105.16L375.20,105.09L376.50,105.02L377.80,104.95L379.10,104.88L380.40,104.81L381.70,104.74L383.01,104.67L384.32,104.61L385.63,104.55L386.95,104.48L388.26,104.42L389.58,104.36L390.90,104.30L392.22,104.24L393.54,104.19L394.87,104.13L396.20,104.08"/>
<path class="c" stroke="#008cff" d="M82.00,207.10L82.64,202.09L83.28,197.17L83.93,192.34L84.58,187.62L85.23,183.00L85.88,178.50L86.53,174.12L87.19,169.87L87.85,165.75L88.51,161.74L89.17,157.83L89.84,154.01L90.51,150.28L91.17,146.62L91.85,143.02L92.52,139.48L93.20,136.04L93.87,132.72L94.55,129.47L95.24,126.22L95.92,122.83L96.61,119.41L97.30,116.25L97.99,113.61L98.68,111.34L99.38,109.31L100.07,107.45L100.77,105.73L101.48,104.18L102.18,102.73L102.89,101.27L103.59,99.80L104.30,98.63L105.02,97.80L105.73,97.08L106.45,96.45L107.17,95.90L107.89,95.43L108.61,95.03L109.34,94.65L110.07,94.30L110.80,93.99L111.53,93.70L112.26,93.46L113.00,93.25L113.74,93.08L114.48,92.93L115.22,92.78L115.97,92.64L116.71,92.52L117.46,92.40L118.21,92.29L118.97,92.20L119.72,92.13L120.48,92.08L121.24,92.04L122.00,92.03L122.77,92.02L123.53,92.01L124.30,92.00L125.07,92.00L125.85,91.99L126.62,91.98L127.40,91.98L128.18,91.97L128.96,91.97L129.75,91.96L130.53,91.96L131.32,91.95L132.11,91.95L132.90,91.95L133.70,91.94L134.49,91.94L135.29,91.94L136.10,91.94L136.90,91.94L137.70,91.94L138.51,91.94L139.32,91.95L140.13,91.96L140.95,91.97L141.76,91.98L142.58,92.00L143.40,92.02L144.23,92.04L145.05,92.06L145.88,92.08L146.71,92.10L147.54,92.13L148.37,92.16L149.21,92.18L150.05,92.21L150.89,92.24L151.73,92.26L152.57,92.29L153.42,92.32L154.27,92.34L155.12,92.37L155.97,92.39L156.83,92.41L157.69,92.43L158.55,92.45L159.41,92.47L160.27,92.49L161.14,92.51L162.01,92.53L162.88,92.55L163.75,92.57L164.62,92.59L165.50,92.61L166.38,92.63L167.26,92.65L168.14,92.67L169.03,92.68L169.92,92.70L170.81,92.72L171.70,92.74L172.59,92.75L173.49,92.77L174.39,92.78L175.29,92.80L176.19,92.81L177.10,92.83L178.00,92.84L178.91,92.85L179.82,92.87L180.74,92.88L181.65,92.89L182.57,92.91L183.49,92.92L184.41,92.93L185.34,92.95L186.27,92.96L187.19,92.97L188.12,92.99L189.06,93.00L189.99,93.01L190.93,93.03L191.87,93.04L192.81,93.05L193.76,93.07L194.70,93.08L195.65,93.09L196.60,93.11L197.55,93.12L198.51,93.13L199.46,93.14L200.42,93.16L201.38,93.17L202.35,93.18L203.31,93.19L204.28,93.20L205.25,93.22L206.22,93.23L207.20,93.24L208.17,93.25L209.15,93.26L210.13,93.27L211.12,93.28L212.10,93.29L213.09,93.30L214.08,93.31L215.07,93.32L216.06,93.32L217.06,93.33L218.06,93.34L219.06,93.35L220.06,93.35L221.06,93.36L222.07,93.36L223.08,93.37L224.09,93.38L225.10,93.38L226.12,93.38L227.13,93.39L228.15,93.39L229.18,93.39L230.20,93.39L231.23,93.40L232.25,93.40L233.28,93.40L234.32,93.40L235.35,93.40L236.39,93.40L237.43,93.40L238.47,93.40L239.51,93.40L240.56,93.40L241.60,93.40L242.65,93.40L243.71,93.40L244.76,93.40L245.82,93.40L246.87,93.40L247.94,93.40L249.00,93.40L250.06,93.40L251.13,93.40L252.20,93.40L253.27,93.40L254.34,93.40L255.42,93.40L256.50,93.40L257.58,93.40L258.66,93.40L259.74,93.40L260.83,93.40L261.92,93.40L263.01,93.40L264.10,93.40L265.20,93.40L266.30,93.40L267.40,93.40L268.50,93.40L269.60,93.40L270.71,93.40L271.82,93.40L272.93,93.40L274.04,93.40L275.15,93.40L276.27,93.40L277.39,93.40L278.51,93.40L279.63,93.40L280.76,93.40L281.89,93.39L283.02,93.39L284.15,93.39L285.28,93.39L286.42,93.38L287.56,93.38L288.70,93.38L289.84,93.37L290.98,93.36L292.13,93.36L293.28,93.35L294.43,93.34L295.59,93.33L296.74,93.33L297.90,93.32L299.06,93.31L300.22,93.30L301.39,93.29L302.55,93.27L303.72,93.26L304.89,93.25L306.06,93.24L307.24,93.23L308.42,93.21L309.60,93.20L310.78,93.19L311.96,93.17L313.15,93.16L314.34,93.14L315.53,93.13L316.72,93.11L317.91,93.10L319.11,93.08L320.31,93.07L321.51,93.05L322.71,93.04L323.92,93.02L325.13,93.00L326.34,92.99L327.55,92.97L328.76,92.96L329.98,92.94L331.20,92.92L332.42,92.91L333.64,92.89L334.86,92.87L336.09,92.86L337.32,92.84L338.55,92.83L339.79,92.81L341.02,92.80L342.26,92.78L343.50,92.76L344.74,92.75L345.99,92.73L347.23,92.71L348.48,92.70L349.73,92.68L350.98,92.66L352.24,92.64L353.50,92.62L354.76,92.60L356.02,92.58L357.28,92.56L358.55,92.54L359.82,92.52L361.09,92.50L362.36,92.48L363.63,92.46L364.91,92.44L366.19,92.42L367.47,92.39L368.75,92.37L370.04,92.35L371.33,92.33L372.62,92.30L373.91,92.28L375.20,92.26L376.50,92.23L377.80,92.21L379.10,92.18L380.40,92.16L381.70,92.13L383.01,92.11L384.32,92.08L385.63,92.06L386.95,92.03L388.26,92.00L389.58,91.98L390.90,91.95L392.22,91.92L393.54,91.90L394.87,91.87L396.20,91.84"/>
<path class="c" stroke="#0a0aff" d="M82.00,207.10L82.64,202.27L83.28,197.38L83.93,192.43L84.58,187.43L85.23,182.38L85.88,177.28L86.53,172.12L87.19,166.87L87.85,161.36L88.51,155.71L89.17,150.13L89.84,144.79L90.51,139.90L91.17,135.50L91.85,131.42L92.52,127.54L93.20,123.73L93.87,119.90L94.55,116.15L95.24,112.56L95.92,109.26L96.61,106.24L97.30,103.44L97.99,100.87L98.68,98.48L99.38,96.30L100.07,94.37L100.77,92.61L101.48,91.00L102.18,89.57L102.89,88.32L103.59,87.14L104.30,86.07L105.02,85.16L105.73,84.43L106.45,83.84L107.17,83.31L107.89,82.86L108.61,82.45L109.34,82.10L110.07,81.79L110.80,81.49L111.53,81.21L112.26,80.96L113.00,80.73L113.74,80.53L114.48,80.37L115.22,80.26L115.97,80.16L116.71,80.06L117.46,79.98L118.21,79.90L118.97,79.83L119.72,79.77L120.48,79.72L121.24,79.67L122.00,79.64L122.77,79.61L123.53,79.59L124.30,79.57L125.07,79.56L125.85,79.54L126.62,79.52L127.40,79.51L128.18,79.50L128.96,79.48L129.75,79.47L130.53,79.46L131.32,79.45L132.11,79.44L132.90,79.43L133.70,79.43L134.49,79.42L135.29,79.42L136.10,79.42L136.90,79.41L137.70,79.41L138.51,79.41L139.32,79.41L140.13,79.41L140.95,79.41L141.76,79.41L142.58,79.41L143.40,79.41L144.23,79.41L145.05,79.41L145.88,79.41L146.71,79.41L147.54,79.41L148.37,79.41L149.21,79.41L150.05,79.41L150.89,79.41L151.73,79.41L152.57,79.41L153.42,79.41L154.27,79.41L155.12,79.41L155.97,79.41L156.83,79.41L157.69,79.41L158.55,79.41L159.41,79.41L160.27,79.41L161.14,79.41L162.01,79.41L162.88,79.41L163.75,79.42L164.62,79.42L165.50,79.42L166.38,79.42L167.26,79.42L168.14,79.42L169.03,79.42L169.92,79.42L170.81,79.42L171.70,79.42L172.59,79.42L173.49,79.42L174.39,79.42L175.29,79.43L176.19,79.43L177.10,79.43L178.00,79.43L178.91,79.43L179.82,79.43L180.74,79.43L181.65,79.43L182.57,79.44L183.49,79.44L184.41,79.44L185.34,79.44L186.27,79.44L187.19,79.44L188.12,79.44L189.06,79.45L189.99,79.45L190.93,79.45L191.87,79.45L192.81,79.45L193.76,79.45L194.70,79.46L195.65,79.46L196.60,79.46L197.55,79.46L198.51,79.46L199.46,79.46L200.42,79.47L201.38,79.47L202.35,79.47L203.31,79.47L204.28,79.47L205.25,79.47L206.22,79.48L207.20,79.48L208.17,79.48L209.15,79.48L210.13,79.48L211.12,79.48L212.10,79.49L213.09,79.49L214.08,79.49L215.07,79.49L216.06,79.49L217.06,79.49L218.06,79.49L219.06,79.50L220.06,79.50L221.06,79.50L222.07,79.50L223.08,79.50L224.09,79.50L225.10,79.50L226.12,79.50L227.13,79.50L228.15,79.51L229.18,79.51L230.20,79.51L231.23,79.51L232.25,79.51L233.28,79.51L234.32,79.51L235.35,79.51L236.39,79.51L237.43,79.51L238.47,79.51L239.51,79.51L240.56,79.51L241.60,79.51L242.65,79.51L243.71,79.51L244.76,79.51L245.82,79.51L246.87,79.51L247.94,79.51L249.00,79.51L250.06,79.51L251.13,79.51L252.20,79.51L253.27,79.51L254.34,79.51L255.42,79.51L256.50,79.51L257.58,79.51L258.66,79.51L259.74,79.51L260.83,79.51L261.92,79.51L263.01,79.51L264.10,79.51L265.20,79.51L266.30,79.51L267.40,79.51L268.50,79.51L269.60,79.51L270.71,79.51L271.82,79.51L272.93,79.51L274.04,79.51L275.15,79.51L276.27,79.51L277.39,79.51L278.51,79.51L279.63,79.51L280.76,79.51L281.89,79.51L283.02,79.51L284.15,79.51L285.28,79.51L286.42,79.51L287.56,79.51L288.70,79.51L289.84,79.51L290.98,79.51L292.13,79.51L293.28,79.51L294.43,79.51L295.59,79.51L296.74,79.51L297.90,79.51L299.06,79.51L300.22,79.51L301.39,79.51L302.55,79.51L303.72,79.51L304.89,79.51L306.06,79.51L307.24,79.51L308.42,79.51L309.60,79.51L310.78,79.51L311.96,79.51L313.15,79.51L314.34,79.51L315.53,79.51L316.72,79.51L317.91,79.51L319.11,79.51L320.31,79.51L321.51,79.51L322.71,79.51L323.92,79.51L325.13,79.51L326.34,79.51L327.55,79.51L328.76,79.51L329.98,79.51L331.20,79.51L332.42,79.51L333.64,79.51L334.86,79.51L336.09,79.51L337.32,79.51L338.55,79.51L339.79,79.51L341.02,79.51L342.26,79.51L343.50,79.51L344.74,79.51L345.99,79.51L347.23,79.51L348.48,79.51L349.73,79.51L350.98,79.51L352.24,79.51L353.50,79.51L354.76,79.51L356.02,79.51L357.28,79.51L358.55,79.51L359.82,79.51L361.09,79.51L362.36,79.51L363.63,79.51L364.91,79.51L366.19,79.51L367.47,79.51L368.75,79.51L370.04,79.51L371.33,79.51L372.62,79.51L373.91,79.51L375.20,79.51L376.50,79.51L377.80,79.51L379.10,79.51L380.40,79.51L381.70,79.51L383.01,79.51L384.32,79.51L385.63,79.51L386.95,79.51L388.26,79.51L389.58,79.51L390.90,79.51L392.22,79.51L393.54,79.51L394.87,79.51L396.20,79.51"/>
</g>
<text x="82.00" y="248.5" text-anchor="middle" class="t">0</text>
<text x="144.04" y="248.5" text-anchor="middle" class="t">1</text>
<text x="207.68" y="248.5" text-anchor="middle" class="t">2</text>
<text x="270.52" y="248.5" text-anchor="middle" class="t">3</text>
<text x="333.36" y="248.5" text-anchor="middle" class="t">4</text>
<text x="396.20" y="248.5" text-anchor="middle" class="t">5</text>
<text x="58.10" y="214.50" text-anchor="end" class="t">0</text>
<text x="59.70" y="117.40" text-anchor="end" class="t">1</text>
<text x="58.10" y="20.30" text-anchor="end" class="t">2</text>
<g class="ti">
<text transform="translate(194.40,293.4) scale(0.9,1)">e</text>
<text x="205.90" y="293.4">V</text>
<text x="221.60" y="297.79999999999995" class="sub">sd</text>
<text transform="translate(241.80,299.09999999999997) scale(1.0,1.27)" class="sl">/</text>
<text x="250.70" y="293.4">ħ</text>
<text transform="translate(267.30,293.4) scale(0.95,1)">ω</text>
</g>
<text class="ti" text-anchor="middle" transform="translate(21.70,110.39999999999999) rotate(-90)">I</text>
<text transform="translate(105.40,49.9) scale(1.0,1.03)" class="pl">(a)</text>
</g>
<g id="pb">
<path d="M501.00,207.1v-9.3M501.00,12.9v9.3M579.50,207.1v-9.3M579.50,12.9v9.3M658.00,207.1v-9.3M658.00,12.9v9.3M736.50,207.1v-9.3M736.50,12.9v9.3M815.00,207.1v-9.3M815.00,12.9v9.3M540.25,207.1v-5.5M540.25,12.9v5.5M618.75,207.1v-5.5M618.75,12.9v5.5M697.25,207.1v-5.5M697.25,12.9v5.5M775.75,207.1v-5.5M775.75,12.9v5.5M501.0,207.10h9.3M815.0,207.10h-9.3M501.0,142.37h9.3M815.0,142.37h-9.3M501.0,77.63h9.3M815.0,77.63h-9.3M501.0,12.90h9.3M815.0,12.90h-9.3M501.0,174.73h5.5M815.0,174.73h-5.5M501.0,110.00h5.5M815.0,110.00h-5.5M501.0,45.27h5.5M815.0,45.27h-5.5" stroke="#000" stroke-width="1.6" fill="none"/>
<rect x="501.0" y="12.9" width="314.00" height="194.20" fill="none" stroke="#000" stroke-width="1.6"/>
<clipPath id="cpb"><rect x="500.20" y="12.10" width="315.60" height="195.80"/></clipPath>
<g clip-path="url(#cpb)">
<path class="c" stroke="#ff0000" d="M501.00,207.10L501.39,202.16L501.79,197.42L502.18,193.04L502.57,189.13L502.96,185.74L503.36,182.87L503.75,180.47L504.14,178.50L504.54,176.90L504.93,175.63L505.32,174.62L505.72,173.83L506.11,173.23L506.50,172.77L506.89,172.43L507.29,172.17L507.68,171.98L508.07,171.84L508.47,171.73L508.86,171.64L509.25,171.56L509.65,171.49L510.04,171.43L510.43,171.37L510.82,171.31L511.22,171.26L511.61,171.21L512.00,171.16L512.40,171.11L512.79,171.06L513.18,171.02L513.58,170.98L513.97,170.95L514.36,170.92L514.75,170.90L515.15,170.88L515.54,170.88L515.93,170.88L516.33,170.89L516.72,170.90L517.11,170.93L517.51,170.96L517.90,171.00L518.29,171.04L518.68,171.10L519.08,171.15L519.47,171.22L519.86,171.29L520.26,171.36L520.65,171.44L521.04,171.52L521.44,171.60L521.83,171.69L522.22,171.78L522.61,171.88L523.01,171.98L523.40,172.09L523.79,172.22L524.19,172.36L524.58,172.52L524.97,172.69L525.37,172.88L525.76,173.08L526.15,173.28L526.54,173.47L526.94,173.64L527.33,173.79L527.72,173.89L528.12,173.94L528.51,173.92L528.90,173.81L529.30,173.60L529.69,173.30L530.08,172.88L530.47,172.37L530.87,171.75L531.26,171.06L531.65,170.29L532.05,169.46L532.44,168.58L532.83,167.66L533.23,166.72L533.62,165.77L534.01,164.82L534.40,163.88L534.80,162.97L535.19,162.10L535.58,161.28L535.98,160.52L536.37,159.84L536.76,159.25L537.16,158.75L537.55,158.35L537.94,158.05L538.33,157.85L538.73,157.73L539.12,157.67L539.51,157.67L539.91,157.70L540.30,157.76L540.69,157.84L541.09,157.94L541.48,158.05L541.87,158.18L542.26,158.32L542.66,158.47L543.05,158.63L543.44,158.80L543.84,158.98L544.23,159.17L544.62,159.36L545.02,159.56L545.41,159.77L545.80,159.98L546.19,160.19L546.59,160.40L546.98,160.62L547.37,160.84L547.77,161.06L548.16,161.27L548.55,161.49L548.94,161.70L549.34,161.92L549.73,162.13L550.12,162.35L550.52,162.58L550.91,162.81L551.30,163.04L551.70,163.29L552.09,163.54L552.48,163.80L552.87,164.06L553.27,164.33L553.66,164.60L554.05,164.88L554.45,165.15L554.84,165.43L555.23,165.70L555.63,165.97L556.02,166.24L556.41,166.50L556.80,166.76L557.20,167.03L557.59,167.29L557.98,167.57L558.38,167.84L558.77,168.12L559.16,168.40L559.56,168.67L559.95,168.92L560.34,169.16L560.73,169.36L561.13,169.53L561.52,169.66L561.91,169.74L562.31,169.77L562.70,169.75L563.09,169.69L563.49,169.60L563.88,169.47L564.27,169.31L564.66,169.14L565.06,168.95L565.45,168.77L565.84,168.58L566.24,168.40L566.63,168.24L567.02,168.11L567.42,168.00L567.81,167.92L568.20,167.87L568.59,167.85L568.99,167.87L569.38,167.91L569.77,167.98L570.17,168.07L570.56,168.18L570.95,168.32L571.35,168.47L571.74,168.64L572.13,168.83L572.52,169.03L572.92,169.25L573.31,169.48L573.70,169.73L574.10,169.99L574.49,170.25L574.88,170.53L575.28,170.82L575.67,171.11L576.06,171.42L576.45,171.72L576.85,172.03L577.24,172.35L577.63,172.67L578.03,172.99L578.42,173.31L578.81,173.63L579.21,173.95L579.60,174.26L579.99,174.58L580.38,174.89L580.78,175.19L581.17,175.49L581.56,175.78L581.96,176.07L582.35,176.36L582.74,176.65L583.14,176.93L583.53,177.23L583.92,177.53L584.31,177.83L584.71,178.15L585.10,178.47L585.49,178.80L585.89,179.14L586.28,179.47L586.67,179.81L587.07,180.15L587.46,180.48L587.85,180.81L588.24,181.14L588.64,181.45L589.03,181.76L589.42,182.05L589.82,182.33L590.21,182.59L590.60,182.84L590.99,183.07L591.39,183.27L591.78,183.46L592.17,183.62L592.57,183.76L592.96,183.87L593.35,183.97L593.75,184.05L594.14,184.12L594.53,184.18L594.92,184.22L595.32,184.27L595.71,184.30L596.10,184.34L596.50,184.38L596.89,184.43L597.28,184.47L597.68,184.53L598.07,184.59L598.46,184.67L598.85,184.76L599.25,184.86L599.64,184.98L600.03,185.11L600.43,185.26L600.82,185.42L601.21,185.60L601.61,185.79L602.00,186.00L602.39,186.22L602.78,186.44L603.18,186.68L603.57,186.93L603.96,187.18L604.36,187.45L604.75,187.71L605.14,187.99L605.54,188.27L605.93,188.55L606.32,188.83L606.71,189.12L607.11,189.40L607.50,189.69L607.89,189.97L608.29,190.25L608.68,190.53L609.07,190.80L609.47,191.07L609.86,191.34L610.25,191.59L610.64,191.85L611.04,192.09L611.43,192.33L611.82,192.56L612.22,192.79L612.61,193.02L613.00,193.24L613.40,193.47L613.79,193.69L614.18,193.91L614.57,194.14L614.97,194.36L615.36,194.58L615.75,194.80L616.15,195.02L616.54,195.24L616.93,195.46L617.33,195.67L617.72,195.88L618.11,196.09L618.50,196.30L618.90,196.50L619.29,196.70L619.68,196.90L620.08,197.09L620.47,197.27L620.86,197.46L621.26,197.63L621.65,197.80L622.04,197.97L622.43,198.12L622.83,198.28L623.22,198.42L623.61,198.56L624.01,198.69L624.40,198.82L624.79,198.94L625.19,199.06L625.58,199.17L625.97,199.29L626.36,199.40L626.76,199.51L627.15,199.62L627.54,199.73L627.94,199.84L628.33,199.96L628.72,200.08L629.12,200.20L629.51,200.32L629.90,200.45L630.29,200.58L630.69,200.71L631.08,200.84L631.47,200.98L631.87,201.12L632.26,201.26L632.65,201.40L633.05,201.54L633.44,201.68L633.83,201.83L634.22,201.97L634.62,202.11L635.01,202.26L635.40,202.40L635.80,202.55L636.19,202.69L636.58,202.83L636.97,202.97L637.37,203.11L637.76,203.25L638.15,203.39L638.55,203.52L638.94,203.66L639.33,203.79L639.73,203.91L640.12,204.04L640.51,204.16L640.90,204.28L641.30,204.40L641.69,204.51L642.08,204.62L642.48,204.73L642.87,204.83L643.26,204.93L643.66,205.03L644.05,205.13L644.44,205.22L644.83,205.32L645.23,205.41L645.62,205.50L646.01,205.59L646.41,205.67L646.80,205.76L647.19,205.84L647.59,205.92L647.98,206.00L648.37,206.08L648.76,206.16L649.16,206.23L649.55,206.30L649.94,206.37L650.34,206.43L650.73,206.49L651.12,206.55L651.52,206.61L651.91,206.66L652.30,206.71L652.69,206.75L653.09,206.80L653.48,206.84L653.87,206.87L654.27,206.91L654.66,206.94L655.05,206.97L655.45,206.99L655.84,207.01L656.23,207.03L656.62,207.04L657.02,207.05L657.41,207.06L657.80,207.06L658.20,207.05L658.59,207.05L658.98,207.04L659.38,207.03L659.77,207.01L660.16,206.99L660.55,206.97L660.95,206.95L661.34,206.92L661.73,206.89L662.13,206.86L662.52,206.83L662.91,206.80L663.31,206.76L663.70,206.72L664.09,206.67L664.48,206.63L664.88,206.57L665.27,206.52L665.66,206.46L666.06,206.40L666.45,206.34L666.84,206.27L667.24,206.20L667.63,206.13L668.02,206.06L668.41,205.98L668.81,205.90L669.20,205.82L669.59,205.74L669.99,205.66L670.38,205.58L670.77,205.50L671.17,205.41L671.56,205.32L671.95,205.24L672.34,205.15L672.74,205.05L673.13,204.96L673.52,204.87L673.92,204.77L674.31,204.67L674.70,204.57L675.10,204.46L675.49,204.36L675.88,204.25L676.27,204.14L676.67,204.03L677.06,203.91L677.45,203.80L677.85,203.68L678.24,203.56L678.63,203.44L679.03,203.31L679.42,203.19L679.81,203.06L680.20,202.93L680.60,202.80L680.99,202.66L681.38,202.52L681.78,202.39L682.17,202.24L682.56,202.10L682.95,201.95L683.35,201.80L683.74,201.64L684.13,201.49L684.53,201.32L684.92,201.16L685.31,200.99L685.71,200.81L686.10,200.63L686.49,200.45L686.88,200.27L687.28,200.08L687.67,199.88L688.06,199.69L688.46,199.49L688.85,199.29L689.24,199.09L689.64,198.88L690.03,198.67L690.42,198.47L690.81,198.26L691.21,198.05L691.60,197.83L691.99,197.62L692.39,197.41L692.78,197.20L693.17,196.98L693.57,196.77L693.96,196.56L694.35,196.35L694.74,196.13L695.14,195.92L695.53,195.71L695.92,195.50L696.32,195.29L696.71,195.07L697.10,194.86L697.50,194.65L697.89,194.43L698.28,194.22L698.67,194.00L699.07,193.79L699.46,193.57L699.85,193.35L700.25,193.13L700.64,192.91L701.03,192.69L701.43,192.47L701.82,192.24L702.21,192.01L702.60,191.79L703.00,191.56L703.39,191.32L703.78,191.09L704.18,190.85L704.57,190.62L704.96,190.38L705.36,190.13L705.75,189.89L706.14,189.64L706.53,189.39L706.93,189.14L707.32,188.89L707.71,188.63L708.11,188.37L708.50,188.10L708.89,187.84L709.29,187.57L709.68,187.30L710.07,187.02L710.46,186.74L710.86,186.46L711.25,186.18L711.64,185.90L712.04,185.61L712.43,185.32L712.82,185.03L713.22,184.74L713.61,184.44L714.00,184.14L714.39,183.84L714.79,183.54L715.18,183.23L715.57,182.92L715.97,182.60L716.36,182.29L716.75,181.97L717.15,181.64L717.54,181.32L717.93,181.00L718.32,180.67L718.72,180.35L719.11,180.04L719.50,179.72L719.90,179.41L720.29,179.11L720.68,178.81L721.08,178.52L721.47,178.23L721.86,177.95L722.25,177.68L722.65,177.41L723.04,177.14L723.43,176.88L723.83,176.63L724.22,176.38L724.61,176.13L725.01,175.88L725.40,175.64L725.79,175.40L726.18,175.17L726.58,174.93L726.97,174.70L727.36,174.47L727.76,174.24L728.15,174.02L728.54,173.80L728.93,173.58L729.33,173.36L729.72,173.14L730.11,172.92L730.51,172.71L730.90,172.49L731.29,172.28L731.69,172.07L732.08,171.86L732.47,171.65L732.86,171.45L733.26,171.24L733.65,171.03L734.04,170.83L734.44,170.62L734.83,170.42L735.22,170.22L735.62,170.01L736.01,169.81L736.40,169.61L736.79,169.40L737.19,169.20L737.58,169.00L737.97,168.79L738.37,168.59L738.76,168.38L739.15,168.18L739.55,167.97L739.94,167.77L740.33,167.56L740.72,167.35L741.12,167.14L741.51,166.93L741.90,166.72L742.30,166.51L742.69,166.29L743.08,166.08L743.48,165.86L743.87,165.64L744.26,165.42L744.65,165.19L745.05,164.97L745.44,164.74L745.83,164.50L746.23,164.27L746.62,164.03L747.01,163.79L747.41,163.54L747.80,163.30L748.19,163.05L748.58,162.80L748.98,162.56L749.37,162.31L749.76,162.07L750.16,161.83L750.55,161.60L750.94,161.37L751.34,161.15L751.73,160.93L752.12,160.72L752.51,160.52L752.91,160.32L753.30,160.13L753.69,159.95L754.09,159.78L754.48,159.61L754.87,159.45L755.27,159.29L755.66,159.14L756.05,158.99L756.44,158.85L756.84,158.71L757.23,158.57L757.62,158.44L758.02,158.31L758.41,158.18L758.80,158.05L759.20,157.93L759.59,157.81L759.98,157.69L760.37,157.58L760.77,157.46L761.16,157.35L761.55,157.24L761.95,157.13L762.34,157.02L762.73,156.92L763.13,156.81L763.52,156.71L763.91,156.61L764.30,156.51L764.70,156.41L765.09,156.30L765.48,156.20L765.88,156.11L766.27,156.01L766.66,155.91L767.06,155.81L767.45,155.71L767.84,155.61L768.23,155.51L768.63,155.41L769.02,155.31L769.41,155.21L769.81,155.10L770.20,155.00L770.59,154.90L770.98,154.79L771.38,154.68L771.77,154.58L772.16,154.47L772.56,154.35L772.95,154.24L773.34,154.13L773.74,154.01L774.13,153.89L774.52,153.77L774.91,153.64L775.31,153.51L775.70,153.38L776.09,153.25L776.49,153.11L776.88,152.96L777.27,152.82L777.67,152.66L778.06,152.50L778.45,152.34L778.84,152.17L779.24,152.00L779.63,151.83L780.02,151.65L780.42,151.47L780.81,151.29L781.20,151.11L781.60,150.93L781.99,150.75L782.38,150.58L782.77,150.42L783.17,150.26L783.56,150.11L783.95,149.96L784.35,149.82L784.74,149.70L785.13,149.57L785.53,149.46L785.92,149.35L786.31,149.25L786.70,149.15L787.10,149.06L787.49,148.97L787.88,148.88L788.28,148.80L788.67,148.72L789.06,148.65L789.46,148.57L789.85,148.50L790.24,148.43L790.63,148.36L791.03,148.29L791.42,148.23L791.81,148.16L792.21,148.10L792.60,148.04L792.99,147.98L793.39,147.92L793.78,147.87L794.17,147.81L794.56,147.76L794.96,147.70L795.35,147.65L795.74,147.59L796.14,147.54L796.53,147.49L796.92,147.43L797.32,147.38L797.71,147.33L798.10,147.28L798.49,147.22L798.89,147.17L799.28,147.11L799.67,147.06L800.07,147.00L800.46,146.95L800.85,146.89L801.25,146.83L801.64,146.77L802.03,146.71L802.42,146.65L802.82,146.59L803.21,146.52L803.60,146.46L804.00,146.39L804.39,146.32L804.78,146.25L805.18,146.17L805.57,146.10L805.96,146.02L806.35,145.94L806.75,145.86L807.14,145.77L807.53,145.68L807.93,145.59L808.32,145.50L808.71,145.41L809.11,145.31L809.50,145.21L809.89,145.11L810.28,145.00L810.68,144.90L811.07,144.79L811.46,144.68L811.86,144.57L812.25,144.46L812.64,144.35L813.04,144.24L813.43,144.12L813.82,144.01L814.21,143.89L814.61,143.78L815.00,143.66"/>
<path class="c" stroke="#ff9100" d="M501.00,207.10L501.39,202.03L501.79,197.15L502.18,192.60L502.57,188.50L502.96,184.89L503.36,181.79L503.75,179.18L504.14,177.04L504.54,175.34L504.93,174.02L505.32,173.04L505.72,172.33L506.11,171.82L506.50,171.45L506.89,171.18L507.29,170.99L507.68,170.84L508.07,170.73L508.47,170.64L508.86,170.58L509.25,170.54L509.65,170.51L510.04,170.49L510.43,170.48L510.82,170.48L511.22,170.49L511.61,170.50L512.00,170.51L512.40,170.52L512.79,170.54L513.18,170.56L513.58,170.58L513.97,170.60L514.36,170.62L514.75,170.65L515.15,170.68L515.54,170.71L515.93,170.74L516.33,170.77L516.72,170.80L517.11,170.84L517.51,170.87L517.90,170.91L518.29,170.95L518.68,170.99L519.08,171.04L519.47,171.09L519.86,171.15L520.26,171.22L520.65,171.31L521.04,171.40L521.44,171.52L521.83,171.65L522.22,171.79L522.61,171.94L523.01,172.09L523.40,172.26L523.79,172.42L524.19,172.59L524.58,172.76L524.97,172.92L525.37,173.07L525.76,173.21L526.15,173.34L526.54,173.46L526.94,173.55L527.33,173.61L527.72,173.63L528.12,173.60L528.51,173.49L528.90,173.28L529.30,172.97L529.69,172.54L530.08,171.99L530.47,171.32L530.87,170.54L531.26,169.67L531.65,168.71L532.05,167.69L532.44,166.62L532.83,165.52L533.23,164.39L533.62,163.26L534.01,162.14L534.40,161.04L534.80,159.99L535.19,158.99L535.58,158.07L535.98,157.24L536.37,156.50L536.76,155.88L537.16,155.39L537.55,155.02L537.94,154.78L538.33,154.66L538.73,154.64L539.12,154.70L539.51,154.83L539.91,155.00L540.30,155.19L540.69,155.40L541.09,155.60L541.48,155.81L541.87,156.01L542.26,156.20L542.66,156.39L543.05,156.58L543.44,156.77L543.84,156.95L544.23,157.14L544.62,157.33L545.02,157.51L545.41,157.70L545.80,157.89L546.19,158.07L546.59,158.26L546.98,158.45L547.37,158.63L547.77,158.82L548.16,159.01L548.55,159.19L548.94,159.38L549.34,159.57L549.73,159.75L550.12,159.94L550.52,160.13L550.91,160.31L551.30,160.50L551.70,160.69L552.09,160.87L552.48,161.06L552.87,161.25L553.27,161.44L553.66,161.62L554.05,161.81L554.45,162.00L554.84,162.18L555.23,162.37L555.63,162.56L556.02,162.74L556.41,162.93L556.80,163.12L557.20,163.32L557.59,163.52L557.98,163.72L558.38,163.93L558.77,164.13L559.16,164.33L559.56,164.51L559.95,164.65L560.34,164.76L560.73,164.82L561.13,164.82L561.52,164.78L561.91,164.68L562.31,164.55L562.70,164.38L563.09,164.19L563.49,163.97L563.88,163.73L564.27,163.49L564.66,163.24L565.06,162.99L565.45,162.76L565.84,162.53L566.24,162.33L566.63,162.16L567.02,162.02L567.42,161.92L567.81,161.88L568.20,161.88L568.59,161.95L568.99,162.07L569.38,162.24L569.77,162.46L570.17,162.70L570.56,162.96L570.95,163.23L571.35,163.49L571.74,163.74L572.13,163.99L572.52,164.24L572.92,164.47L573.31,164.71L573.70,164.95L574.10,165.18L574.49,165.42L574.88,165.65L575.28,165.89L575.67,166.12L576.06,166.36L576.45,166.59L576.85,166.82L577.24,167.06L577.63,167.29L578.03,167.53L578.42,167.76L578.81,168.00L579.21,168.23L579.60,168.47L579.99,168.70L580.38,168.94L580.78,169.17L581.17,169.41L581.56,169.64L581.96,169.88L582.35,170.11L582.74,170.35L583.14,170.58L583.53,170.82L583.92,171.05L584.31,171.29L584.71,171.52L585.10,171.75L585.49,171.99L585.89,172.22L586.28,172.46L586.67,172.69L587.07,172.93L587.46,173.17L587.85,173.40L588.24,173.64L588.64,173.88L589.03,174.13L589.42,174.38L589.82,174.64L590.21,174.90L590.60,175.15L590.99,175.39L591.39,175.61L591.78,175.79L592.17,175.94L592.57,176.05L592.96,176.12L593.35,176.15L593.75,176.16L594.14,176.15L594.53,176.12L594.92,176.09L595.32,176.05L595.71,176.01L596.10,175.97L596.50,175.93L596.89,175.91L597.28,175.90L597.68,175.90L598.07,175.93L598.46,175.99L598.85,176.08L599.25,176.20L599.64,176.36L600.03,176.54L600.43,176.74L600.82,176.96L601.21,177.18L601.61,177.39L602.00,177.61L602.39,177.82L602.78,178.03L603.18,178.23L603.57,178.43L603.96,178.64L604.36,178.84L604.75,179.04L605.14,179.24L605.54,179.44L605.93,179.64L606.32,179.84L606.71,180.04L607.11,180.24L607.50,180.44L607.89,180.64L608.29,180.84L608.68,181.04L609.07,181.25L609.47,181.45L609.86,181.65L610.25,181.85L610.64,182.05L611.04,182.25L611.43,182.45L611.82,182.65L612.22,182.85L612.61,183.05L613.00,183.25L613.40,183.45L613.79,183.65L614.18,183.85L614.57,184.05L614.97,184.25L615.36,184.45L615.75,184.65L616.15,184.85L616.54,185.06L616.93,185.26L617.33,185.46L617.72,185.66L618.11,185.86L618.50,186.06L618.90,186.26L619.29,186.47L619.68,186.67L620.08,186.88L620.47,187.08L620.86,187.29L621.26,187.49L621.65,187.69L622.04,187.88L622.43,188.06L622.83,188.22L623.22,188.37L623.61,188.50L624.01,188.62L624.40,188.73L624.79,188.82L625.19,188.90L625.58,188.98L625.97,189.05L626.36,189.12L626.76,189.18L627.15,189.24L627.54,189.31L627.94,189.38L628.33,189.45L628.72,189.53L629.12,189.61L629.51,189.70L629.90,189.80L630.29,189.90L630.69,190.01L631.08,190.12L631.47,190.23L631.87,190.35L632.26,190.47L632.65,190.59L633.05,190.71L633.44,190.83L633.83,190.95L634.22,191.07L634.62,191.19L635.01,191.31L635.40,191.43L635.80,191.55L636.19,191.67L636.58,191.79L636.97,191.91L637.37,192.03L637.76,192.15L638.15,192.26L638.55,192.38L638.94,192.50L639.33,192.62L639.73,192.74L640.12,192.86L640.51,192.98L640.90,193.10L641.30,193.22L641.69,193.33L642.08,193.45L642.48,193.57L642.87,193.69L643.26,193.81L643.66,193.93L644.05,194.05L644.44,194.17L644.83,194.29L645.23,194.41L645.62,194.52L646.01,194.64L646.41,194.76L646.80,194.88L647.19,195.00L647.59,195.12L647.98,195.24L648.37,195.36L648.76,195.48L649.16,195.60L649.55,195.72L649.94,195.85L650.34,195.97L650.73,196.09L651.12,196.22L651.52,196.34L651.91,196.45L652.30,196.56L652.69,196.66L653.09,196.75L653.48,196.83L653.87,196.88L654.27,196.93L654.66,196.95L655.05,196.96L655.45,196.95L655.84,196.93L656.23,196.90L656.62,196.85L657.02,196.80L657.41,196.74L657.80,196.68L658.20,196.61L658.59,196.54L658.98,196.46L659.38,196.38L659.77,196.31L660.16,196.23L660.55,196.15L660.95,196.07L661.34,196.00L661.73,195.92L662.13,195.84L662.52,195.77L662.91,195.69L663.31,195.61L663.70,195.54L664.09,195.46L664.48,195.39L664.88,195.31L665.27,195.23L665.66,195.16L666.06,195.08L666.45,195.01L666.84,194.93L667.24,194.86L667.63,194.78L668.02,194.70L668.41,194.63L668.81,194.55L669.20,194.48L669.59,194.40L669.99,194.33L670.38,194.25L670.77,194.18L671.17,194.10L671.56,194.03L671.95,193.95L672.34,193.87L672.74,193.80L673.13,193.72L673.52,193.65L673.92,193.57L674.31,193.50L674.70,193.42L675.10,193.35L675.49,193.27L675.88,193.20L676.27,193.12L676.67,193.04L677.06,192.97L677.45,192.89L677.85,192.82L678.24,192.74L678.63,192.67L679.03,192.59L679.42,192.52L679.81,192.44L680.20,192.37L680.60,192.29L680.99,192.22L681.38,192.14L681.78,192.06L682.17,191.98L682.56,191.90L682.95,191.81L683.35,191.71L683.74,191.61L684.13,191.49L684.53,191.36L684.92,191.22L685.31,191.06L685.71,190.88L686.10,190.69L686.49,190.49L686.88,190.27L687.28,190.04L687.67,189.80L688.06,189.55L688.46,189.29L688.85,189.02L689.24,188.75L689.64,188.48L690.03,188.21L690.42,187.94L690.81,187.67L691.21,187.41L691.60,187.16L691.99,186.91L692.39,186.67L692.78,186.44L693.17,186.22L693.57,186.01L693.96,185.81L694.35,185.61L694.74,185.42L695.14,185.23L695.53,185.05L695.92,184.86L696.32,184.68L696.71,184.50L697.10,184.32L697.50,184.14L697.89,183.97L698.28,183.79L698.67,183.61L699.07,183.43L699.46,183.25L699.85,183.07L700.25,182.89L700.64,182.71L701.03,182.53L701.43,182.35L701.82,182.17L702.21,181.99L702.60,181.81L703.00,181.63L703.39,181.45L703.78,181.27L704.18,181.09L704.57,180.91L704.96,180.73L705.36,180.55L705.75,180.37L706.14,180.19L706.53,180.01L706.93,179.83L707.32,179.65L707.71,179.47L708.11,179.29L708.50,179.11L708.89,178.93L709.29,178.75L709.68,178.57L710.07,178.39L710.46,178.21L710.86,178.04L711.25,177.86L711.64,177.68L712.04,177.50L712.43,177.32L712.82,177.14L713.22,176.96L713.61,176.78L714.00,176.59L714.39,176.39L714.79,176.19L715.18,175.98L715.57,175.75L715.97,175.51L716.36,175.25L716.75,174.97L717.15,174.67L717.54,174.36L717.93,174.04L718.32,173.70L718.72,173.35L719.11,172.99L719.50,172.63L719.90,172.28L720.29,171.92L720.68,171.58L721.08,171.24L721.47,170.92L721.86,170.61L722.25,170.32L722.65,170.03L723.04,169.77L723.43,169.51L723.83,169.26L724.22,169.03L724.61,168.80L725.01,168.58L725.40,168.36L725.79,168.15L726.18,167.95L726.58,167.75L726.97,167.55L727.36,167.36L727.76,167.17L728.15,166.98L728.54,166.80L728.93,166.62L729.33,166.44L729.72,166.27L730.11,166.10L730.51,165.93L730.90,165.77L731.29,165.60L731.69,165.44L732.08,165.28L732.47,165.12L732.86,164.97L733.26,164.81L733.65,164.66L734.04,164.51L734.44,164.35L734.83,164.20L735.22,164.05L735.62,163.90L736.01,163.75L736.40,163.60L736.79,163.45L737.19,163.30L737.58,163.15L737.97,163.00L738.37,162.85L738.76,162.70L739.15,162.54L739.55,162.39L739.94,162.23L740.33,162.07L740.72,161.91L741.12,161.75L741.51,161.59L741.90,161.42L742.30,161.26L742.69,161.09L743.08,160.91L743.48,160.74L743.87,160.56L744.26,160.37L744.65,160.19L745.05,160.00L745.44,159.80L745.83,159.61L746.23,159.40L746.62,159.20L747.01,158.99L747.41,158.77L747.80,158.56L748.19,158.34L748.58,158.12L748.98,157.90L749.37,157.69L749.76,157.47L750.16,157.25L750.55,157.04L750.94,156.83L751.34,156.63L751.73,156.43L752.12,156.24L752.51,156.06L752.91,155.88L753.30,155.70L753.69,155.54L754.09,155.38L754.48,155.22L754.87,155.07L755.27,154.93L755.66,154.78L756.05,154.65L756.44,154.51L756.84,154.38L757.23,154.25L757.62,154.13L758.02,154.01L758.41,153.89L758.80,153.77L759.20,153.65L759.59,153.54L759.98,153.43L760.37,153.32L760.77,153.21L761.16,153.10L761.55,152.99L761.95,152.89L762.34,152.79L762.73,152.69L763.13,152.59L763.52,152.49L763.91,152.39L764.30,152.29L764.70,152.19L765.09,152.10L765.48,152.00L765.88,151.90L766.27,151.81L766.66,151.71L767.06,151.62L767.45,151.52L767.84,151.43L768.23,151.33L768.63,151.23L769.02,151.14L769.41,151.04L769.81,150.94L770.20,150.85L770.59,150.75L770.98,150.65L771.38,150.54L771.77,150.44L772.16,150.34L772.56,150.23L772.95,150.13L773.34,150.02L773.74,149.91L774.13,149.80L774.52,149.68L774.91,149.57L775.31,149.45L775.70,149.33L776.09,149.20L776.49,149.08L776.88,148.94L777.27,148.81L777.67,148.67L778.06,148.53L778.45,148.38L778.84,148.23L779.24,148.07L779.63,147.91L780.02,147.75L780.42,147.59L780.81,147.43L781.20,147.27L781.60,147.12L781.99,146.96L782.38,146.81L782.77,146.67L783.17,146.53L783.56,146.40L783.95,146.27L784.35,146.15L784.74,146.05L785.13,145.94L785.53,145.85L785.92,145.76L786.31,145.67L786.70,145.59L787.10,145.52L787.49,145.45L787.88,145.38L788.28,145.31L788.67,145.25L789.06,145.19L789.46,145.13L789.85,145.07L790.24,145.02L790.63,144.97L791.03,144.92L791.42,144.87L791.81,144.82L792.21,144.77L792.60,144.72L792.99,144.68L793.39,144.64L793.78,144.59L794.17,144.55L794.56,144.51L794.96,144.47L795.35,144.43L795.74,144.39L796.14,144.35L796.53,144.31L796.92,144.27L797.32,144.23L797.71,144.19L798.10,144.15L798.49,144.11L798.89,144.07L799.28,144.03L799.67,143.98L800.07,143.94L800.46,143.90L800.85,143.85L801.25,143.81L801.64,143.76L802.03,143.71L802.42,143.66L802.82,143.61L803.21,143.56L803.60,143.51L804.00,143.45L804.39,143.39L804.78,143.33L805.18,143.27L805.57,143.21L805.96,143.14L806.35,143.07L806.75,143.00L807.14,142.93L807.53,142.85L807.93,142.77L808.32,142.69L808.71,142.60L809.11,142.51L809.50,142.42L809.89,142.32L810.28,142.23L810.68,142.13L811.07,142.03L811.46,141.92L811.86,141.82L812.25,141.71L812.64,141.61L813.04,141.50L813.43,141.39L813.82,141.28L814.21,141.17L814.61,141.05L815.00,140.94"/>
<path class="c" stroke="#d7ff00" d="M501.00,207.10L501.39,201.91L501.79,196.89L502.18,192.19L502.57,187.90L502.96,184.09L503.36,180.77L503.75,177.94L504.14,175.59L504.54,173.70L504.93,172.24L505.32,171.14L505.72,170.33L506.11,169.75L506.50,169.33L506.89,169.02L507.29,168.79L507.68,168.61L508.07,168.48L508.47,168.37L508.86,168.29L509.25,168.23L509.65,168.19L510.04,168.17L510.43,168.15L510.82,168.15L511.22,168.15L511.61,168.15L512.00,168.16L512.40,168.17L512.79,168.18L513.18,168.19L513.58,168.20L513.97,168.21L514.36,168.23L514.75,168.24L515.15,168.26L515.54,168.28L515.93,168.30L516.33,168.32L516.72,168.34L517.11,168.36L517.51,168.38L517.90,168.40L518.29,168.42L518.68,168.45L519.08,168.48L519.47,168.51L519.86,168.54L520.26,168.59L520.65,168.64L521.04,168.69L521.44,168.76L521.83,168.84L522.22,168.92L522.61,169.01L523.01,169.10L523.40,169.19L523.79,169.29L524.19,169.39L524.58,169.48L524.97,169.57L525.37,169.66L525.76,169.74L526.15,169.81L526.54,169.87L526.94,169.92L527.33,169.93L527.72,169.90L528.12,169.81L528.51,169.64L528.90,169.36L529.30,168.96L529.69,168.42L530.08,167.76L530.47,166.96L530.87,166.06L531.26,165.05L531.65,163.96L532.05,162.79L532.44,161.58L532.83,160.33L533.23,159.06L533.62,157.79L534.01,156.54L534.40,155.32L534.80,154.14L535.19,153.03L535.58,152.01L535.98,151.08L536.37,150.27L536.76,149.58L537.16,149.02L537.55,148.60L537.94,148.32L538.33,148.15L538.73,148.09L539.12,148.10L539.51,148.16L539.91,148.26L540.30,148.38L540.69,148.51L541.09,148.64L541.48,148.76L541.87,148.89L542.26,149.01L542.66,149.13L543.05,149.25L543.44,149.36L543.84,149.48L544.23,149.60L544.62,149.71L545.02,149.83L545.41,149.95L545.80,150.07L546.19,150.18L546.59,150.30L546.98,150.42L547.37,150.53L547.77,150.65L548.16,150.77L548.55,150.88L548.94,151.00L549.34,151.12L549.73,151.24L550.12,151.35L550.52,151.47L550.91,151.59L551.30,151.70L551.70,151.82L552.09,151.94L552.48,152.05L552.87,152.17L553.27,152.29L553.66,152.41L554.05,152.52L554.45,152.64L554.84,152.76L555.23,152.87L555.63,152.99L556.02,153.11L556.41,153.23L556.80,153.35L557.20,153.47L557.59,153.59L557.98,153.72L558.38,153.85L558.77,153.98L559.16,154.10L559.56,154.21L559.95,154.29L560.34,154.34L560.73,154.35L561.13,154.30L561.52,154.21L561.91,154.06L562.31,153.85L562.70,153.60L563.09,153.31L563.49,152.99L563.88,152.65L564.27,152.29L564.66,151.93L565.06,151.57L565.45,151.22L565.84,150.90L566.24,150.60L566.63,150.35L567.02,150.14L567.42,149.98L567.81,149.87L568.20,149.83L568.59,149.84L568.99,149.90L569.38,150.01L569.77,150.14L570.17,150.30L570.56,150.47L570.95,150.64L571.35,150.82L571.74,150.98L572.13,151.15L572.52,151.31L572.92,151.46L573.31,151.62L573.70,151.77L574.10,151.92L574.49,152.08L574.88,152.23L575.28,152.39L575.67,152.54L576.06,152.69L576.45,152.85L576.85,153.00L577.24,153.15L577.63,153.31L578.03,153.46L578.42,153.62L578.81,153.77L579.21,153.92L579.60,154.08L579.99,154.23L580.38,154.38L580.78,154.54L581.17,154.69L581.56,154.85L581.96,155.00L582.35,155.15L582.74,155.31L583.14,155.46L583.53,155.61L583.92,155.77L584.31,155.92L584.71,156.08L585.10,156.23L585.49,156.38L585.89,156.54L586.28,156.69L586.67,156.84L587.07,157.00L587.46,157.15L587.85,157.31L588.24,157.46L588.64,157.62L589.03,157.78L589.42,157.95L589.82,158.12L590.21,158.28L590.60,158.45L590.99,158.60L591.39,158.74L591.78,158.85L592.17,158.93L592.57,158.98L592.96,158.99L593.35,158.96L593.75,158.90L594.14,158.81L594.53,158.69L594.92,158.56L595.32,158.43L595.71,158.29L596.10,158.15L596.50,158.02L596.89,157.91L597.28,157.82L597.68,157.77L598.07,157.74L598.46,157.76L598.85,157.81L599.25,157.90L599.64,158.02L600.03,158.17L600.43,158.34L600.82,158.51L601.21,158.69L601.61,158.88L602.00,159.06L602.39,159.23L602.78,159.41L603.18,159.58L603.57,159.75L603.96,159.92L604.36,160.09L604.75,160.26L605.14,160.42L605.54,160.59L605.93,160.76L606.32,160.93L606.71,161.10L607.11,161.26L607.50,161.43L607.89,161.60L608.29,161.77L608.68,161.94L609.07,162.11L609.47,162.27L609.86,162.44L610.25,162.61L610.64,162.78L611.04,162.95L611.43,163.11L611.82,163.28L612.22,163.45L612.61,163.62L613.00,163.79L613.40,163.95L613.79,164.12L614.18,164.29L614.57,164.46L614.97,164.63L615.36,164.80L615.75,164.96L616.15,165.13L616.54,165.30L616.93,165.47L617.33,165.64L617.72,165.81L618.11,165.98L618.50,166.15L618.90,166.32L619.29,166.49L619.68,166.67L620.08,166.85L620.47,167.02L620.86,167.20L621.26,167.37L621.65,167.54L622.04,167.69L622.43,167.81L622.83,167.92L623.22,167.99L623.61,168.04L624.01,168.06L624.40,168.06L624.79,168.03L625.19,167.99L625.58,167.94L625.97,167.88L626.36,167.82L626.76,167.75L627.15,167.69L627.54,167.64L627.94,167.59L628.33,167.55L628.72,167.53L629.12,167.53L629.51,167.55L629.90,167.59L630.29,167.65L630.69,167.73L631.08,167.83L631.47,167.93L631.87,168.05L632.26,168.17L632.65,168.29L633.05,168.41L633.44,168.53L633.83,168.65L634.22,168.77L634.62,168.89L635.01,169.01L635.40,169.13L635.80,169.25L636.19,169.37L636.58,169.48L636.97,169.60L637.37,169.72L637.76,169.83L638.15,169.95L638.55,170.07L638.94,170.18L639.33,170.30L639.73,170.42L640.12,170.53L640.51,170.65L640.90,170.77L641.30,170.89L641.69,171.00L642.08,171.12L642.48,171.24L642.87,171.35L643.26,171.47L643.66,171.59L644.05,171.70L644.44,171.82L644.83,171.94L645.23,172.05L645.62,172.17L646.01,172.29L646.41,172.41L646.80,172.52L647.19,172.64L647.59,172.76L647.98,172.87L648.37,172.99L648.76,173.11L649.16,173.23L649.55,173.35L649.94,173.47L650.34,173.59L650.73,173.71L651.12,173.83L651.52,173.95L651.91,174.06L652.30,174.16L652.69,174.25L653.09,174.33L653.48,174.38L653.87,174.41L654.27,174.41L654.66,174.39L655.05,174.33L655.45,174.25L655.84,174.15L656.23,174.02L656.62,173.87L657.02,173.71L657.41,173.54L657.80,173.35L658.20,173.17L658.59,172.98L658.98,172.80L659.38,172.62L659.77,172.46L660.16,172.31L660.55,172.18L660.95,172.06L661.34,171.95L661.73,171.86L662.13,171.79L662.52,171.72L662.91,171.67L663.31,171.62L663.70,171.57L664.09,171.54L664.48,171.50L664.88,171.46L665.27,171.43L665.66,171.40L666.06,171.36L666.45,171.33L666.84,171.30L667.24,171.27L667.63,171.23L668.02,171.20L668.41,171.17L668.81,171.13L669.20,171.10L669.59,171.07L669.99,171.03L670.38,171.00L670.77,170.97L671.17,170.93L671.56,170.90L671.95,170.87L672.34,170.83L672.74,170.80L673.13,170.77L673.52,170.73L673.92,170.70L674.31,170.67L674.70,170.63L675.10,170.60L675.49,170.57L675.88,170.53L676.27,170.50L676.67,170.47L677.06,170.43L677.45,170.40L677.85,170.37L678.24,170.33L678.63,170.30L679.03,170.27L679.42,170.23L679.81,170.20L680.20,170.17L680.60,170.14L680.99,170.10L681.38,170.07L681.78,170.03L682.17,169.99L682.56,169.94L682.95,169.88L683.35,169.81L683.74,169.73L684.13,169.63L684.53,169.51L684.92,169.36L685.31,169.19L685.71,168.99L686.10,168.76L686.49,168.51L686.88,168.22L687.28,167.92L687.67,167.60L688.06,167.26L688.46,166.91L688.85,166.55L689.24,166.19L689.64,165.83L690.03,165.48L690.42,165.14L690.81,164.82L691.21,164.51L691.60,164.23L691.99,163.97L692.39,163.73L692.78,163.52L693.17,163.33L693.57,163.16L693.96,163.01L694.35,162.88L694.74,162.76L695.14,162.65L695.53,162.55L695.92,162.46L696.32,162.37L696.71,162.28L697.10,162.19L697.50,162.10L697.89,162.01L698.28,161.92L698.67,161.84L699.07,161.75L699.46,161.66L699.85,161.57L700.25,161.48L700.64,161.39L701.03,161.30L701.43,161.22L701.82,161.13L702.21,161.04L702.60,160.95L703.00,160.86L703.39,160.77L703.78,160.68L704.18,160.59L704.57,160.51L704.96,160.42L705.36,160.33L705.75,160.24L706.14,160.15L706.53,160.06L706.93,159.97L707.32,159.88L707.71,159.80L708.11,159.71L708.50,159.62L708.89,159.53L709.29,159.44L709.68,159.35L710.07,159.26L710.46,159.17L710.86,159.09L711.25,159.00L711.64,158.91L712.04,158.82L712.43,158.73L712.82,158.64L713.22,158.55L713.61,158.46L714.00,158.36L714.39,158.25L714.79,158.13L715.18,158.00L715.57,157.85L715.97,157.68L716.36,157.49L716.75,157.27L717.15,157.03L717.54,156.77L717.93,156.48L718.32,156.18L718.72,155.86L719.11,155.54L719.50,155.20L719.90,154.87L720.29,154.55L720.68,154.23L721.08,153.93L721.47,153.65L721.86,153.39L722.25,153.15L722.65,152.92L723.04,152.72L723.43,152.53L723.83,152.35L724.22,152.19L724.61,152.03L725.01,151.89L725.40,151.75L725.79,151.62L726.18,151.49L726.58,151.37L726.97,151.25L727.36,151.14L727.76,151.03L728.15,150.92L728.54,150.82L728.93,150.72L729.33,150.62L729.72,150.53L730.11,150.43L730.51,150.34L730.90,150.26L731.29,150.17L731.69,150.09L732.08,150.00L732.47,149.92L732.86,149.84L733.26,149.76L733.65,149.69L734.04,149.61L734.44,149.53L734.83,149.46L735.22,149.38L735.62,149.30L736.01,149.23L736.40,149.15L736.79,149.07L737.19,148.99L737.58,148.92L737.97,148.84L738.37,148.75L738.76,148.67L739.15,148.59L739.55,148.50L739.94,148.41L740.33,148.32L740.72,148.23L741.12,148.13L741.51,148.03L741.90,147.93L742.30,147.83L742.69,147.72L743.08,147.60L743.48,147.49L743.87,147.37L744.26,147.24L744.65,147.11L745.05,146.97L745.44,146.82L745.83,146.66L746.23,146.50L746.62,146.33L747.01,146.16L747.41,145.97L747.80,145.78L748.19,145.59L748.58,145.39L748.98,145.19L749.37,144.99L749.76,144.78L750.16,144.59L750.55,144.39L750.94,144.20L751.34,144.02L751.73,143.85L752.12,143.69L752.51,143.53L752.91,143.39L753.30,143.26L753.69,143.13L754.09,143.02L754.48,142.91L754.87,142.81L755.27,142.72L755.66,142.63L756.05,142.55L756.44,142.47L756.84,142.40L757.23,142.33L757.62,142.26L758.02,142.19L758.41,142.13L758.80,142.07L759.20,142.01L759.59,141.95L759.98,141.89L760.37,141.84L760.77,141.79L761.16,141.74L761.55,141.69L761.95,141.64L762.34,141.59L762.73,141.55L763.13,141.50L763.52,141.46L763.91,141.42L764.30,141.38L764.70,141.33L765.09,141.29L765.48,141.25L765.88,141.21L766.27,141.17L766.66,141.13L767.06,141.09L767.45,141.05L767.84,141.01L768.23,140.97L768.63,140.93L769.02,140.88L769.41,140.84L769.81,140.80L770.20,140.75L770.59,140.71L770.98,140.66L771.38,140.61L771.77,140.56L772.16,140.51L772.56,140.46L772.95,140.40L773.34,140.35L773.74,140.29L774.13,140.23L774.52,140.17L774.91,140.10L775.31,140.04L775.70,139.97L776.09,139.89L776.49,139.81L776.88,139.73L777.27,139.65L777.67,139.55L778.06,139.45L778.45,139.35L778.84,139.23L779.24,139.11L779.63,138.99L780.02,138.85L780.42,138.72L780.81,138.57L781.20,138.43L781.60,138.28L781.99,138.14L782.38,137.99L782.77,137.85L783.17,137.72L783.56,137.59L783.95,137.47L784.35,137.35L784.74,137.25L785.13,137.15L785.53,137.06L785.92,136.98L786.31,136.90L786.70,136.83L787.10,136.76L787.49,136.69L787.88,136.63L788.28,136.58L788.67,136.52L789.06,136.47L789.46,136.42L789.85,136.37L790.24,136.32L790.63,136.28L791.03,136.23L791.42,136.19L791.81,136.15L792.21,136.11L792.60,136.07L792.99,136.03L793.39,135.99L793.78,135.96L794.17,135.92L794.56,135.89L794.96,135.85L795.35,135.82L795.74,135.78L796.14,135.75L796.53,135.72L796.92,135.68L797.32,135.65L797.71,135.62L798.10,135.58L798.49,135.55L798.89,135.52L799.28,135.48L799.67,135.44L800.07,135.41L800.46,135.37L800.85,135.33L801.25,135.29L801.64,135.25L802.03,135.21L802.42,135.17L802.82,135.13L803.21,135.08L803.60,135.03L804.00,134.99L804.39,134.93L804.78,134.88L805.18,134.83L805.57,134.77L805.96,134.71L806.35,134.65L806.75,134.58L807.14,134.52L807.53,134.45L807.93,134.37L808.32,134.30L808.71,134.22L809.11,134.14L809.50,134.05L809.89,133.96L810.28,133.87L810.68,133.78L811.07,133.68L811.46,133.59L811.86,133.49L812.25,133.39L812.64,133.28L813.04,133.18L813.43,133.08L813.82,132.97L814.21,132.87L814.61,132.76L815.00,132.66"/>
<path class="c" stroke="#46fa00" d="M501.00,207.10L501.39,201.78L501.79,196.63L502.18,191.77L502.57,187.30L502.96,183.29L503.36,179.75L503.75,176.70L504.14,174.14L504.54,172.06L504.93,170.42L505.32,169.18L505.72,168.27L506.11,167.60L506.50,167.12L506.89,166.76L507.29,166.50L507.68,166.30L508.07,166.16L508.47,166.04L508.86,165.96L509.25,165.90L509.65,165.86L510.04,165.83L510.43,165.82L510.82,165.81L511.22,165.81L511.61,165.81L512.00,165.81L512.40,165.81L512.79,165.81L513.18,165.82L513.58,165.82L513.97,165.83L514.36,165.83L514.75,165.84L515.15,165.84L515.54,165.85L515.93,165.85L516.33,165.86L516.72,165.87L517.11,165.87L517.51,165.88L517.90,165.89L518.29,165.90L518.68,165.91L519.08,165.92L519.47,165.93L519.86,165.95L520.26,165.97L520.65,166.00L521.04,166.03L521.44,166.07L521.83,166.12L522.22,166.17L522.61,166.23L523.01,166.29L523.40,166.36L523.79,166.42L524.19,166.49L524.58,166.55L524.97,166.62L525.37,166.68L525.76,166.73L526.15,166.78L526.54,166.82L526.94,166.85L527.33,166.84L527.72,166.79L528.12,166.67L528.51,166.46L528.90,166.13L529.30,165.65L529.69,165.02L530.08,164.23L530.47,163.30L530.87,162.23L531.26,161.04L531.65,159.75L532.05,158.37L532.44,156.94L532.83,155.47L533.23,153.97L533.62,152.47L534.01,150.99L534.40,149.55L534.80,148.16L535.19,146.86L535.58,145.65L535.98,144.55L536.37,143.59L536.76,142.77L537.16,142.11L537.55,141.61L537.94,141.26L538.33,141.03L538.73,140.91L539.12,140.87L539.51,140.87L539.91,140.91L540.30,140.96L540.69,141.02L541.09,141.08L541.48,141.14L541.87,141.20L542.26,141.26L542.66,141.32L543.05,141.38L543.44,141.43L543.84,141.49L544.23,141.55L544.62,141.60L545.02,141.66L545.41,141.71L545.80,141.77L546.19,141.83L546.59,141.88L546.98,141.94L547.37,142.00L547.77,142.05L548.16,142.11L548.55,142.16L548.94,142.22L549.34,142.28L549.73,142.33L550.12,142.39L550.52,142.45L550.91,142.50L551.30,142.56L551.70,142.61L552.09,142.67L552.48,142.73L552.87,142.78L553.27,142.84L553.66,142.90L554.05,142.95L554.45,143.01L554.84,143.06L555.23,143.12L555.63,143.18L556.02,143.23L556.41,143.29L556.80,143.35L557.20,143.41L557.59,143.47L557.98,143.53L558.38,143.59L558.77,143.65L559.16,143.71L559.56,143.75L559.95,143.77L560.34,143.77L560.73,143.72L561.13,143.61L561.52,143.43L561.91,143.18L562.31,142.86L562.70,142.47L563.09,142.02L563.49,141.53L563.88,140.99L564.27,140.44L564.66,139.87L565.06,139.32L565.45,138.78L565.84,138.27L566.24,137.81L566.63,137.41L567.02,137.08L567.42,136.82L567.81,136.63L568.20,136.52L568.59,136.48L568.99,136.48L569.38,136.53L569.77,136.61L570.17,136.70L570.56,136.80L570.95,136.91L571.35,137.01L571.74,137.11L572.13,137.21L572.52,137.31L572.92,137.40L573.31,137.50L573.70,137.59L574.10,137.69L574.49,137.78L574.88,137.87L575.28,137.97L575.67,138.06L576.06,138.15L576.45,138.25L576.85,138.34L577.24,138.43L577.63,138.53L578.03,138.62L578.42,138.71L578.81,138.81L579.21,138.90L579.60,138.99L579.99,139.09L580.38,139.18L580.78,139.27L581.17,139.37L581.56,139.46L581.96,139.55L582.35,139.65L582.74,139.74L583.14,139.84L583.53,139.93L583.92,140.02L584.31,140.12L584.71,140.21L585.10,140.30L585.49,140.40L585.89,140.49L586.28,140.58L586.67,140.68L587.07,140.77L587.46,140.86L587.85,140.96L588.24,141.05L588.64,141.15L589.03,141.25L589.42,141.35L589.82,141.45L590.21,141.55L590.60,141.65L590.99,141.74L591.39,141.81L591.78,141.86L592.17,141.88L592.57,141.86L592.96,141.79L593.35,141.67L593.75,141.51L594.14,141.29L594.53,141.04L594.92,140.75L595.32,140.45L595.71,140.14L596.10,139.84L596.50,139.56L596.89,139.31L597.28,139.10L597.68,138.94L598.07,138.82L598.46,138.76L598.85,138.75L599.25,138.78L599.64,138.84L600.03,138.92L600.43,139.03L600.82,139.14L601.21,139.25L601.61,139.37L602.00,139.49L602.39,139.60L602.78,139.71L603.18,139.83L603.57,139.94L603.96,140.05L604.36,140.16L604.75,140.27L605.14,140.38L605.54,140.49L605.93,140.59L606.32,140.70L606.71,140.81L607.11,140.92L607.50,141.03L607.89,141.14L608.29,141.25L608.68,141.36L609.07,141.47L609.47,141.58L609.86,141.69L610.25,141.80L610.64,141.91L611.04,142.02L611.43,142.13L611.82,142.24L612.22,142.34L612.61,142.45L613.00,142.56L613.40,142.67L613.79,142.78L614.18,142.89L614.57,143.00L614.97,143.11L615.36,143.22L615.75,143.33L616.15,143.44L616.54,143.55L616.93,143.66L617.33,143.77L617.72,143.88L618.11,143.99L618.50,144.10L618.90,144.21L619.29,144.32L619.68,144.44L620.08,144.55L620.47,144.67L620.86,144.78L621.26,144.89L621.65,144.99L622.04,145.07L622.43,145.14L622.83,145.17L623.22,145.18L623.61,145.16L624.01,145.09L624.40,144.99L624.79,144.86L625.19,144.70L625.58,144.51L625.97,144.31L626.36,144.09L626.76,143.88L627.15,143.67L627.54,143.48L627.94,143.31L628.33,143.16L628.72,143.05L629.12,142.97L629.51,142.93L629.90,142.92L630.29,142.94L630.69,142.99L631.08,143.05L631.47,143.14L631.87,143.23L632.26,143.33L632.65,143.43L633.05,143.54L633.44,143.64L633.83,143.74L634.22,143.85L634.62,143.95L635.01,144.05L635.40,144.15L635.80,144.25L636.19,144.35L636.58,144.46L636.97,144.56L637.37,144.66L637.76,144.76L638.15,144.86L638.55,144.96L638.94,145.06L639.33,145.16L639.73,145.26L640.12,145.36L640.51,145.46L640.90,145.56L641.30,145.66L641.69,145.76L642.08,145.86L642.48,145.96L642.87,146.06L643.26,146.16L643.66,146.26L644.05,146.37L644.44,146.47L644.83,146.57L645.23,146.67L645.62,146.77L646.01,146.87L646.41,146.97L646.80,147.07L647.19,147.17L647.59,147.27L647.98,147.37L648.37,147.47L648.76,147.57L649.16,147.68L649.55,147.78L649.94,147.88L650.34,147.99L650.73,148.09L651.12,148.19L651.52,148.29L651.91,148.39L652.30,148.47L652.69,148.54L653.09,148.60L653.48,148.63L653.87,148.64L654.27,148.62L654.66,148.57L655.05,148.50L655.45,148.39L655.84,148.25L656.23,148.09L656.62,147.91L657.02,147.70L657.41,147.49L657.80,147.27L658.20,147.05L658.59,146.83L658.98,146.62L659.38,146.42L659.77,146.24L660.16,146.08L660.55,145.93L660.95,145.81L661.34,145.71L661.73,145.63L662.13,145.56L662.52,145.51L662.91,145.47L663.31,145.44L663.70,145.42L664.09,145.40L664.48,145.39L664.88,145.38L665.27,145.37L665.66,145.36L666.06,145.35L666.45,145.34L666.84,145.34L667.24,145.33L667.63,145.33L668.02,145.32L668.41,145.32L668.81,145.31L669.20,145.31L669.59,145.30L669.99,145.30L670.38,145.30L670.77,145.29L671.17,145.29L671.56,145.29L671.95,145.28L672.34,145.28L672.74,145.28L673.13,145.28L673.52,145.27L673.92,145.27L674.31,145.27L674.70,145.27L675.10,145.26L675.49,145.26L675.88,145.26L676.27,145.25L676.67,145.25L677.06,145.24L677.45,145.24L677.85,145.24L678.24,145.23L678.63,145.22L679.03,145.22L679.42,145.21L679.81,145.21L680.20,145.20L680.60,145.19L680.99,145.18L681.38,145.17L681.78,145.15L682.17,145.13L682.56,145.10L682.95,145.07L683.35,145.02L683.74,144.96L684.13,144.88L684.53,144.78L684.92,144.65L685.31,144.49L685.71,144.30L686.10,144.09L686.49,143.84L686.88,143.56L687.28,143.26L687.67,142.94L688.06,142.60L688.46,142.25L688.85,141.90L689.24,141.54L689.64,141.19L690.03,140.84L690.42,140.51L690.81,140.20L691.21,139.91L691.60,139.65L691.99,139.42L692.39,139.21L692.78,139.04L693.17,138.88L693.57,138.76L693.96,138.65L694.35,138.56L694.74,138.49L695.14,138.42L695.53,138.37L695.92,138.32L696.32,138.27L696.71,138.23L697.10,138.19L697.50,138.15L697.89,138.10L698.28,138.06L698.67,138.02L699.07,137.98L699.46,137.94L699.85,137.89L700.25,137.85L700.64,137.81L701.03,137.77L701.43,137.73L701.82,137.68L702.21,137.64L702.60,137.60L703.00,137.56L703.39,137.52L703.78,137.47L704.18,137.43L704.57,137.39L704.96,137.35L705.36,137.30L705.75,137.26L706.14,137.22L706.53,137.18L706.93,137.14L707.32,137.09L707.71,137.05L708.11,137.01L708.50,136.97L708.89,136.92L709.29,136.88L709.68,136.84L710.07,136.80L710.46,136.76L710.86,136.71L711.25,136.67L711.64,136.63L712.04,136.59L712.43,136.55L712.82,136.50L713.22,136.46L713.61,136.41L714.00,136.35L714.39,136.29L714.79,136.22L715.18,136.13L715.57,136.02L715.97,135.90L716.36,135.74L716.75,135.57L717.15,135.36L717.54,135.13L717.93,134.88L718.32,134.61L718.72,134.32L719.11,134.02L719.50,133.71L719.90,133.41L720.29,133.12L720.68,132.84L721.08,132.58L721.47,132.34L721.86,132.13L722.25,131.94L722.65,131.77L723.04,131.62L723.43,131.50L723.83,131.38L724.22,131.28L724.61,131.19L725.01,131.11L725.40,131.04L725.79,130.97L726.18,130.90L726.58,130.84L726.97,130.78L727.36,130.72L727.76,130.67L728.15,130.62L728.54,130.57L728.93,130.52L729.33,130.48L729.72,130.43L730.11,130.39L730.51,130.35L730.90,130.31L731.29,130.28L731.69,130.24L732.08,130.21L732.47,130.17L732.86,130.14L733.26,130.11L733.65,130.08L734.04,130.05L734.44,130.02L734.83,129.99L735.22,129.96L735.62,129.93L736.01,129.90L736.40,129.87L736.79,129.84L737.19,129.81L737.58,129.78L737.97,129.75L738.37,129.72L738.76,129.69L739.15,129.66L739.55,129.63L739.94,129.60L740.33,129.56L740.72,129.53L741.12,129.49L741.51,129.45L741.90,129.41L742.30,129.37L742.69,129.32L743.08,129.28L743.48,129.23L743.87,129.18L744.26,129.13L744.65,129.08L745.05,129.02L745.44,128.96L745.83,128.89L746.23,128.82L746.62,128.75L747.01,128.67L747.41,128.58L747.80,128.49L748.19,128.39L748.58,128.28L748.98,128.17L749.37,128.05L749.76,127.92L750.16,127.80L750.55,127.67L750.94,127.54L751.34,127.42L751.73,127.30L752.12,127.19L752.51,127.08L752.91,126.98L753.30,126.89L753.69,126.80L754.09,126.73L754.48,126.66L754.87,126.60L755.27,126.54L755.66,126.49L756.05,126.44L756.44,126.39L756.84,126.35L757.23,126.31L757.62,126.27L758.02,126.24L758.41,126.20L758.80,126.17L759.20,126.14L759.59,126.10L759.98,126.07L760.37,126.05L760.77,126.02L761.16,125.99L761.55,125.97L761.95,125.94L762.34,125.92L762.73,125.89L763.13,125.87L763.52,125.85L763.91,125.83L764.30,125.81L764.70,125.79L765.09,125.77L765.48,125.75L765.88,125.73L766.27,125.71L766.66,125.69L767.06,125.67L767.45,125.65L767.84,125.63L768.23,125.61L768.63,125.59L769.02,125.57L769.41,125.55L769.81,125.53L770.20,125.51L770.59,125.49L770.98,125.47L771.38,125.44L771.77,125.42L772.16,125.40L772.56,125.37L772.95,125.34L773.34,125.32L773.74,125.29L774.13,125.26L774.52,125.23L774.91,125.19L775.31,125.16L775.70,125.12L776.09,125.09L776.49,125.05L776.88,125.01L777.27,124.96L777.67,124.92L778.06,124.87L778.45,124.81L778.84,124.75L779.24,124.69L779.63,124.62L780.02,124.55L780.42,124.47L780.81,124.38L781.20,124.29L781.60,124.20L781.99,124.10L782.38,124.01L782.77,123.91L783.17,123.81L783.56,123.72L783.95,123.63L784.35,123.55L784.74,123.47L785.13,123.39L785.53,123.32L785.92,123.26L786.31,123.19L786.70,123.13L787.10,123.07L787.49,123.02L787.88,122.96L788.28,122.91L788.67,122.85L789.06,122.80L789.46,122.75L789.85,122.70L790.24,122.64L790.63,122.59L791.03,122.54L791.42,122.49L791.81,122.44L792.21,122.39L792.60,122.34L792.99,122.29L793.39,122.25L793.78,122.20L794.17,122.15L794.56,122.11L794.96,122.06L795.35,122.01L795.74,121.97L796.14,121.93L796.53,121.88L796.92,121.84L797.32,121.80L797.71,121.75L798.10,121.71L798.49,121.67L798.89,121.63L799.28,121.60L799.67,121.56L800.07,121.52L800.46,121.48L800.85,121.45L801.25,121.41L801.64,121.38L802.03,121.34L802.42,121.31L802.82,121.28L803.21,121.25L803.60,121.22L804.00,121.19L804.39,121.16L804.78,121.13L805.18,121.10L805.57,121.08L805.96,121.05L806.35,121.03L806.75,121.01L807.14,120.98L807.53,120.96L807.93,120.94L808.32,120.92L808.71,120.90L809.11,120.89L809.50,120.87L809.89,120.85L810.28,120.84L810.68,120.83L811.07,120.82L811.46,120.80L811.86,120.79L812.25,120.79L812.64,120.78L813.04,120.77L813.43,120.76L813.82,120.76L814.21,120.75L814.61,120.75L815.00,120.75"/>
<path class="c" stroke="#14fa5a" d="M501.00,207.10L501.39,201.65L501.79,196.36L502.18,191.36L502.57,186.73L502.96,182.54L503.36,178.82L503.75,175.59L504.14,172.85L504.54,170.61L504.93,168.83L505.32,167.48L505.72,166.46L506.11,165.72L506.50,165.17L506.89,164.76L507.29,164.45L507.68,164.22L508.07,164.04L508.47,163.90L508.86,163.80L509.25,163.73L509.65,163.67L510.04,163.64L510.43,163.62L510.82,163.61L511.22,163.60L511.61,163.60L512.00,163.60L512.40,163.60L512.79,163.60L513.18,163.60L513.58,163.60L513.97,163.60L514.36,163.60L514.75,163.60L515.15,163.60L515.54,163.60L515.93,163.60L516.33,163.60L516.72,163.60L517.11,163.60L517.51,163.60L517.90,163.60L518.29,163.60L518.68,163.60L519.08,163.60L519.47,163.60L519.86,163.60L520.26,163.60L520.65,163.60L521.04,163.60L521.44,163.60L521.83,163.60L522.22,163.60L522.61,163.60L523.01,163.60L523.40,163.60L523.79,163.60L524.19,163.60L524.58,163.60L524.97,163.60L525.37,163.60L525.76,163.60L526.15,163.59L526.54,163.58L526.94,163.55L527.33,163.48L527.72,163.36L528.12,163.15L528.51,162.83L528.90,162.37L529.30,161.75L529.69,160.97L530.08,160.04L530.47,158.97L530.87,157.76L531.26,156.44L531.65,155.04L532.05,153.56L532.44,152.02L532.83,150.46L533.23,148.88L533.62,147.31L534.01,145.76L534.40,144.26L534.80,142.82L535.19,141.46L535.58,140.21L535.98,139.08L536.37,138.09L536.76,137.25L537.16,136.57L537.55,136.05L537.94,135.68L538.33,135.43L538.73,135.28L539.12,135.20L539.51,135.16L539.91,135.14L540.30,135.14L540.69,135.14L541.09,135.15L541.48,135.16L541.87,135.16L542.26,135.17L542.66,135.18L543.05,135.20L543.44,135.21L543.84,135.22L544.23,135.23L544.62,135.24L545.02,135.26L545.41,135.27L545.80,135.29L546.19,135.30L546.59,135.32L546.98,135.33L547.37,135.35L547.77,135.37L548.16,135.38L548.55,135.40L548.94,135.42L549.34,135.43L549.73,135.45L550.12,135.47L550.52,135.48L550.91,135.50L551.30,135.52L551.70,135.53L552.09,135.55L552.48,135.56L552.87,135.58L553.27,135.59L553.66,135.61L554.05,135.62L554.45,135.64L554.84,135.65L555.23,135.66L555.63,135.68L556.02,135.69L556.41,135.70L556.80,135.71L557.20,135.72L557.59,135.73L557.98,135.73L558.38,135.74L558.77,135.74L559.16,135.74L559.56,135.73L559.95,135.70L560.34,135.63L560.73,135.52L561.13,135.33L561.52,135.04L561.91,134.66L562.31,134.17L562.70,133.58L563.09,132.90L563.49,132.15L563.88,131.35L564.27,130.51L564.66,129.66L565.06,128.82L565.45,128.01L565.84,127.24L566.24,126.55L566.63,125.94L567.02,125.43L567.42,125.03L567.81,124.74L568.20,124.55L568.59,124.43L568.99,124.38L569.38,124.38L569.77,124.40L570.17,124.44L570.56,124.48L570.95,124.53L571.35,124.58L571.74,124.63L572.13,124.68L572.52,124.72L572.92,124.76L573.31,124.81L573.70,124.85L574.10,124.90L574.49,124.94L574.88,124.98L575.28,125.03L575.67,125.07L576.06,125.11L576.45,125.16L576.85,125.20L577.24,125.25L577.63,125.29L578.03,125.33L578.42,125.38L578.81,125.42L579.21,125.46L579.60,125.51L579.99,125.55L580.38,125.59L580.78,125.64L581.17,125.68L581.56,125.73L581.96,125.77L582.35,125.81L582.74,125.86L583.14,125.90L583.53,125.94L583.92,125.99L584.31,126.03L584.71,126.07L585.10,126.12L585.49,126.16L585.89,126.21L586.28,126.25L586.67,126.29L587.07,126.34L587.46,126.38L587.85,126.42L588.24,126.47L588.64,126.51L589.03,126.56L589.42,126.60L589.82,126.65L590.21,126.70L590.60,126.74L590.99,126.77L591.39,126.79L591.78,126.79L592.17,126.76L592.57,126.68L592.96,126.55L593.35,126.36L593.75,126.10L594.14,125.78L594.53,125.40L594.92,124.98L595.32,124.53L595.71,124.08L596.10,123.64L596.50,123.22L596.89,122.85L597.28,122.53L597.68,122.27L598.07,122.08L598.46,121.95L598.85,121.87L599.25,121.83L599.64,121.83L600.03,121.84L600.43,121.87L600.82,121.90L601.21,121.94L601.61,121.98L602.00,122.02L602.39,122.07L602.78,122.11L603.18,122.15L603.57,122.19L603.96,122.23L604.36,122.27L604.75,122.31L605.14,122.35L605.54,122.39L605.93,122.43L606.32,122.47L606.71,122.52L607.11,122.56L607.50,122.60L607.89,122.64L608.29,122.68L608.68,122.72L609.07,122.76L609.47,122.80L609.86,122.84L610.25,122.88L610.64,122.92L611.04,122.96L611.43,123.00L611.82,123.04L612.22,123.08L612.61,123.12L613.00,123.16L613.40,123.20L613.79,123.24L614.18,123.28L614.57,123.33L614.97,123.37L615.36,123.41L615.75,123.45L616.15,123.49L616.54,123.53L616.93,123.57L617.33,123.61L617.72,123.65L618.11,123.69L618.50,123.73L618.90,123.77L619.29,123.82L619.68,123.86L620.08,123.90L620.47,123.94L620.86,123.98L621.26,124.01L621.65,124.04L622.04,124.06L622.43,124.07L622.83,124.05L623.22,124.01L623.61,123.94L624.01,123.83L624.40,123.69L624.79,123.51L625.19,123.30L625.58,123.07L625.97,122.81L626.36,122.55L626.76,122.28L627.15,122.02L627.54,121.78L627.94,121.57L628.33,121.38L628.72,121.23L629.12,121.12L629.51,121.04L629.90,120.99L630.29,120.97L630.69,120.98L631.08,121.00L631.47,121.04L631.87,121.08L632.26,121.14L632.65,121.19L633.05,121.25L633.44,121.30L633.83,121.36L634.22,121.42L634.62,121.48L635.01,121.53L635.40,121.59L635.80,121.64L636.19,121.70L636.58,121.75L636.97,121.81L637.37,121.86L637.76,121.92L638.15,121.98L638.55,122.03L638.94,122.09L639.33,122.14L639.73,122.20L640.12,122.25L640.51,122.31L640.90,122.36L641.30,122.42L641.69,122.47L642.08,122.53L642.48,122.58L642.87,122.64L643.26,122.70L643.66,122.75L644.05,122.81L644.44,122.86L644.83,122.92L645.23,122.97L645.62,123.03L646.01,123.08L646.41,123.14L646.80,123.19L647.19,123.25L647.59,123.31L647.98,123.36L648.37,123.42L648.76,123.47L649.16,123.53L649.55,123.59L649.94,123.64L650.34,123.70L650.73,123.76L651.12,123.81L651.52,123.86L651.91,123.91L652.30,123.95L652.69,123.98L653.09,123.99L653.48,123.98L653.87,123.95L654.27,123.89L654.66,123.80L655.05,123.68L655.45,123.52L655.84,123.34L656.23,123.12L656.62,122.88L657.02,122.62L657.41,122.35L657.80,122.07L658.20,121.79L658.59,121.51L658.98,121.25L659.38,121.00L659.77,120.78L660.16,120.58L660.55,120.41L660.95,120.26L661.34,120.15L661.73,120.06L662.13,119.99L662.52,119.94L662.91,119.90L663.31,119.88L663.70,119.86L664.09,119.85L664.48,119.85L664.88,119.84L665.27,119.84L665.66,119.84L666.06,119.84L666.45,119.84L666.84,119.84L667.24,119.84L667.63,119.84L668.02,119.84L668.41,119.84L668.81,119.84L669.20,119.84L669.59,119.84L669.99,119.84L670.38,119.84L670.77,119.84L671.17,119.84L671.56,119.84L671.95,119.84L672.34,119.84L672.74,119.84L673.13,119.84L673.52,119.84L673.92,119.84L674.31,119.84L674.70,119.84L675.10,119.84L675.49,119.84L675.88,119.84L676.27,119.84L676.67,119.84L677.06,119.84L677.45,119.84L677.85,119.84L678.24,119.84L678.63,119.84L679.03,119.84L679.42,119.84L679.81,119.84L680.20,119.84L680.60,119.84L680.99,119.84L681.38,119.83L681.78,119.83L682.17,119.82L682.56,119.81L682.95,119.79L683.35,119.76L683.74,119.73L684.13,119.67L684.53,119.60L684.92,119.51L685.31,119.39L685.71,119.26L686.10,119.09L686.49,118.91L686.88,118.70L687.28,118.47L687.67,118.23L688.06,117.97L688.46,117.70L688.85,117.42L689.24,117.15L689.64,116.88L690.03,116.61L690.42,116.36L690.81,116.12L691.21,115.90L691.60,115.70L691.99,115.53L692.39,115.37L692.78,115.24L693.17,115.12L693.57,115.02L693.96,114.94L694.35,114.88L694.74,114.82L695.14,114.77L695.53,114.73L695.92,114.70L696.32,114.67L696.71,114.64L697.10,114.62L697.50,114.59L697.89,114.57L698.28,114.55L698.67,114.53L699.07,114.51L699.46,114.49L699.85,114.48L700.25,114.46L700.64,114.45L701.03,114.44L701.43,114.42L701.82,114.41L702.21,114.40L702.60,114.39L703.00,114.38L703.39,114.37L703.78,114.36L704.18,114.35L704.57,114.34L704.96,114.33L705.36,114.32L705.75,114.31L706.14,114.30L706.53,114.29L706.93,114.28L707.32,114.27L707.71,114.25L708.11,114.24L708.50,114.23L708.89,114.21L709.29,114.20L709.68,114.18L710.07,114.17L710.46,114.15L710.86,114.13L711.25,114.11L711.64,114.09L712.04,114.07L712.43,114.04L712.82,114.01L713.22,113.99L713.61,113.95L714.00,113.92L714.39,113.87L714.79,113.82L715.18,113.77L715.57,113.70L715.97,113.62L716.36,113.53L716.75,113.42L717.15,113.30L717.54,113.16L717.93,113.01L718.32,112.85L718.72,112.68L719.11,112.51L719.50,112.34L719.90,112.17L720.29,112.00L720.68,111.84L721.08,111.70L721.47,111.57L721.86,111.45L722.25,111.35L722.65,111.26L723.04,111.19L723.43,111.12L723.83,111.07L724.22,111.02L724.61,110.98L725.01,110.94L725.40,110.90L725.79,110.87L726.18,110.84L726.58,110.81L726.97,110.78L727.36,110.75L727.76,110.72L728.15,110.69L728.54,110.67L728.93,110.64L729.33,110.62L729.72,110.60L730.11,110.57L730.51,110.55L730.90,110.53L731.29,110.51L731.69,110.49L732.08,110.47L732.47,110.45L732.86,110.44L733.26,110.42L733.65,110.40L734.04,110.38L734.44,110.37L734.83,110.35L735.22,110.34L735.62,110.32L736.01,110.31L736.40,110.29L736.79,110.28L737.19,110.27L737.58,110.25L737.97,110.24L738.37,110.23L738.76,110.22L739.15,110.20L739.55,110.19L739.94,110.18L740.33,110.17L740.72,110.16L741.12,110.14L741.51,110.13L741.90,110.12L742.30,110.11L742.69,110.10L743.08,110.09L743.48,110.07L743.87,110.06L744.26,110.05L744.65,110.04L745.05,110.03L745.44,110.01L745.83,110.00L746.23,109.99L746.62,109.97L747.01,109.96L747.41,109.95L747.80,109.93L748.19,109.92L748.58,109.90L748.98,109.89L749.37,109.88L749.76,109.86L750.16,109.85L750.55,109.83L750.94,109.82L751.34,109.80L751.73,109.79L752.12,109.77L752.51,109.76L752.91,109.74L753.30,109.73L753.69,109.71L754.09,109.70L754.48,109.68L754.87,109.67L755.27,109.65L755.66,109.64L756.05,109.63L756.44,109.61L756.84,109.60L757.23,109.58L757.62,109.57L758.02,109.56L758.41,109.54L758.80,109.53L759.20,109.52L759.59,109.50L759.98,109.49L760.37,109.48L760.77,109.46L761.16,109.45L761.55,109.44L761.95,109.43L762.34,109.41L762.73,109.40L763.13,109.39L763.52,109.37L763.91,109.36L764.30,109.35L764.70,109.34L765.09,109.32L765.48,109.31L765.88,109.30L766.27,109.28L766.66,109.27L767.06,109.26L767.45,109.25L767.84,109.23L768.23,109.22L768.63,109.21L769.02,109.19L769.41,109.18L769.81,109.17L770.20,109.15L770.59,109.14L770.98,109.13L771.38,109.11L771.77,109.10L772.16,109.09L772.56,109.07L772.95,109.06L773.34,109.05L773.74,109.03L774.13,109.02L774.52,109.01L774.91,108.99L775.31,108.98L775.70,108.96L776.09,108.95L776.49,108.94L776.88,108.92L777.27,108.91L777.67,108.89L778.06,108.88L778.45,108.86L778.84,108.85L779.24,108.83L779.63,108.82L780.02,108.80L780.42,108.79L780.81,108.77L781.20,108.76L781.60,108.74L781.99,108.73L782.38,108.71L782.77,108.69L783.17,108.68L783.56,108.66L783.95,108.65L784.35,108.63L784.74,108.62L785.13,108.60L785.53,108.59L785.92,108.57L786.31,108.55L786.70,108.54L787.10,108.52L787.49,108.51L787.88,108.49L788.28,108.47L788.67,108.46L789.06,108.44L789.46,108.42L789.85,108.41L790.24,108.39L790.63,108.38L791.03,108.36L791.42,108.34L791.81,108.33L792.21,108.31L792.60,108.29L792.99,108.28L793.39,108.26L793.78,108.24L794.17,108.23L794.56,108.21L794.96,108.19L795.35,108.18L795.74,108.16L796.14,108.14L796.53,108.12L796.92,108.11L797.32,108.09L797.71,108.07L798.10,108.06L798.49,108.04L798.89,108.02L799.28,108.00L799.67,107.99L800.07,107.97L800.46,107.95L800.85,107.94L801.25,107.92L801.64,107.90L802.03,107.88L802.42,107.87L802.82,107.85L803.21,107.83L803.60,107.81L804.00,107.79L804.39,107.78L804.78,107.76L805.18,107.74L805.57,107.72L805.96,107.70L806.35,107.69L806.75,107.67L807.14,107.65L807.53,107.63L807.93,107.61L808.32,107.60L808.71,107.58L809.11,107.56L809.50,107.54L809.89,107.52L810.28,107.50L810.68,107.49L811.07,107.47L811.46,107.45L811.86,107.43L812.25,107.41L812.64,107.39L813.04,107.37L813.43,107.36L813.82,107.34L814.21,107.32L814.61,107.30L815.00,107.28"/>
<path class="c" stroke="#14fadc" d="M501.00,207.10L501.39,201.52L501.79,196.09L502.18,190.94L502.57,186.14L502.96,181.77L503.36,177.85L503.75,174.41L504.14,171.49L504.54,169.07L504.93,167.16L505.32,165.69L505.72,164.59L506.11,163.78L506.50,163.18L506.89,162.73L507.29,162.39L507.68,162.13L508.07,161.93L508.47,161.77L508.86,161.65L509.25,161.55L509.65,161.48L510.04,161.42L510.43,161.38L510.82,161.35L511.22,161.32L511.61,161.30L512.00,161.28L512.40,161.27L512.79,161.25L513.18,161.24L513.58,161.23L513.97,161.21L514.36,161.20L514.75,161.19L515.15,161.19L515.54,161.18L515.93,161.17L516.33,161.16L516.72,161.16L517.11,161.15L517.51,161.15L517.90,161.14L518.29,161.14L518.68,161.13L519.08,161.13L519.47,161.12L519.86,161.12L520.26,161.11L520.65,161.11L521.04,161.10L521.44,161.10L521.83,161.09L522.22,161.08L522.61,161.08L523.01,161.07L523.40,161.06L523.79,161.05L524.19,161.04L524.58,161.02L524.97,161.01L525.37,160.99L525.76,160.97L526.15,160.94L526.54,160.89L526.94,160.79L527.33,160.63L527.72,160.37L528.12,159.97L528.51,159.40L528.90,158.64L529.30,157.68L529.69,156.53L530.08,155.21L530.47,153.72L530.87,152.10L531.26,150.38L531.65,148.58L532.05,146.73L532.44,144.85L532.83,142.98L533.23,141.13L533.62,139.34L534.01,137.64L534.40,136.04L534.80,134.58L535.19,133.28L535.58,132.17L535.98,131.25L536.37,130.52L536.76,129.98L537.16,129.61L537.55,129.36L537.94,129.21L538.33,129.12L538.73,129.07L539.12,129.03L539.51,129.01L539.91,128.99L540.30,128.97L540.69,128.95L541.09,128.93L541.48,128.92L541.87,128.90L542.26,128.89L542.66,128.88L543.05,128.87L543.44,128.85L543.84,128.84L544.23,128.84L544.62,128.83L545.02,128.82L545.41,128.81L545.80,128.81L546.19,128.80L546.59,128.79L546.98,128.79L547.37,128.78L547.77,128.78L548.16,128.77L548.55,128.77L548.94,128.76L549.34,128.76L549.73,128.75L550.12,128.74L550.52,128.74L550.91,128.73L551.30,128.73L551.70,128.72L552.09,128.71L552.48,128.70L552.87,128.69L553.27,128.68L553.66,128.67L554.05,128.66L554.45,128.65L554.84,128.63L555.23,128.62L555.63,128.60L556.02,128.59L556.41,128.57L556.80,128.55L557.20,128.52L557.59,128.50L557.98,128.47L558.38,128.42L558.77,128.35L559.16,128.25L559.56,128.09L559.95,127.86L560.34,127.55L560.73,127.14L561.13,126.65L561.52,126.07L561.91,125.40L562.31,124.68L562.70,123.89L563.09,123.07L563.49,122.22L563.88,121.35L564.27,120.48L564.66,119.63L565.06,118.80L565.45,118.01L565.84,117.27L566.24,116.59L566.63,115.99L567.02,115.48L567.42,115.06L567.81,114.74L568.20,114.50L568.59,114.35L568.99,114.25L569.38,114.19L569.77,114.16L570.17,114.15L570.56,114.15L570.95,114.14L571.35,114.14L571.74,114.14L572.13,114.14L572.52,114.14L572.92,114.14L573.31,114.14L573.70,114.14L574.10,114.14L574.49,114.14L574.88,114.14L575.28,114.14L575.67,114.14L576.06,114.14L576.45,114.14L576.85,114.14L577.24,114.14L577.63,114.14L578.03,114.14L578.42,114.14L578.81,114.14L579.21,114.14L579.60,114.14L579.99,114.14L580.38,114.14L580.78,114.14L581.17,114.14L581.56,114.14L581.96,114.14L582.35,114.14L582.74,114.14L583.14,114.14L583.53,114.14L583.92,114.14L584.31,114.14L584.71,114.14L585.10,114.14L585.49,114.14L585.89,114.14L586.28,114.14L586.67,114.14L587.07,114.14L587.46,114.14L587.85,114.14L588.24,114.14L588.64,114.14L589.03,114.13L589.42,114.12L589.82,114.10L590.21,114.07L590.60,114.02L590.99,113.93L591.39,113.81L591.78,113.63L592.17,113.41L592.57,113.12L592.96,112.79L593.35,112.41L593.75,111.99L594.14,111.53L594.53,111.06L594.92,110.57L595.32,110.08L595.71,109.59L596.10,109.12L596.50,108.67L596.89,108.25L597.28,107.87L597.68,107.54L598.07,107.26L598.46,107.04L598.85,106.86L599.25,106.74L599.64,106.65L600.03,106.60L600.43,106.57L600.82,106.55L601.21,106.55L601.61,106.55L602.00,106.55L602.39,106.56L602.78,106.57L603.18,106.58L603.57,106.59L603.96,106.61L604.36,106.62L604.75,106.64L605.14,106.65L605.54,106.67L605.93,106.69L606.32,106.71L606.71,106.73L607.11,106.75L607.50,106.77L607.89,106.79L608.29,106.81L608.68,106.83L609.07,106.86L609.47,106.88L609.86,106.90L610.25,106.92L610.64,106.95L611.04,106.97L611.43,106.99L611.82,107.02L612.22,107.04L612.61,107.06L613.00,107.08L613.40,107.10L613.79,107.13L614.18,107.15L614.57,107.17L614.97,107.19L615.36,107.21L615.75,107.23L616.15,107.24L616.54,107.26L616.93,107.28L617.33,107.29L617.72,107.31L618.11,107.32L618.50,107.34L618.90,107.35L619.29,107.36L619.68,107.36L620.08,107.37L620.47,107.37L620.86,107.36L621.26,107.35L621.65,107.32L622.04,107.27L622.43,107.21L622.83,107.12L623.22,107.00L623.61,106.85L624.01,106.66L624.40,106.45L624.79,106.21L625.19,105.95L625.58,105.67L625.97,105.37L626.36,105.07L626.76,104.77L627.15,104.47L627.54,104.18L627.94,103.90L628.33,103.65L628.72,103.41L629.12,103.21L629.51,103.03L629.90,102.89L630.29,102.78L630.69,102.69L631.08,102.63L631.47,102.58L631.87,102.56L632.26,102.54L632.65,102.53L633.05,102.53L633.44,102.53L633.83,102.53L634.22,102.54L634.62,102.55L635.01,102.56L635.40,102.57L635.80,102.58L636.19,102.59L636.58,102.60L636.97,102.61L637.37,102.63L637.76,102.64L638.15,102.65L638.55,102.67L638.94,102.68L639.33,102.70L639.73,102.71L640.12,102.73L640.51,102.74L640.90,102.76L641.30,102.78L641.69,102.79L642.08,102.81L642.48,102.83L642.87,102.84L643.26,102.86L643.66,102.87L644.05,102.89L644.44,102.91L644.83,102.92L645.23,102.94L645.62,102.95L646.01,102.97L646.41,102.98L646.80,102.99L647.19,103.01L647.59,103.02L647.98,103.03L648.37,103.04L648.76,103.05L649.16,103.07L649.55,103.07L649.94,103.08L650.34,103.09L650.73,103.10L651.12,103.10L651.52,103.10L651.91,103.09L652.30,103.08L652.69,103.05L653.09,103.01L653.48,102.96L653.87,102.89L654.27,102.79L654.66,102.67L655.05,102.52L655.45,102.35L655.84,102.15L656.23,101.93L656.62,101.69L657.02,101.43L657.41,101.16L657.80,100.89L658.20,100.62L658.59,100.34L658.98,100.08L659.38,99.83L659.77,99.60L660.16,99.39L660.55,99.20L660.95,99.04L661.34,98.90L661.73,98.79L662.13,98.70L662.52,98.63L662.91,98.58L663.31,98.54L663.70,98.52L664.09,98.50L664.48,98.49L664.88,98.48L665.27,98.48L665.66,98.48L666.06,98.48L666.45,98.48L666.84,98.48L667.24,98.48L667.63,98.48L668.02,98.48L668.41,98.48L668.81,98.48L669.20,98.48L669.59,98.48L669.99,98.48L670.38,98.48L670.77,98.48L671.17,98.48L671.56,98.48L671.95,98.48L672.34,98.48L672.74,98.48L673.13,98.48L673.52,98.48L673.92,98.48L674.31,98.48L674.70,98.48L675.10,98.48L675.49,98.48L675.88,98.48L676.27,98.48L676.67,98.48L677.06,98.48L677.45,98.48L677.85,98.48L678.24,98.48L678.63,98.48L679.03,98.48L679.42,98.48L679.81,98.48L680.20,98.48L680.60,98.48L680.99,98.48L681.38,98.48L681.78,98.48L682.17,98.47L682.56,98.47L682.95,98.47L683.35,98.46L683.74,98.45L684.13,98.43L684.53,98.40L684.92,98.37L685.31,98.32L685.71,98.26L686.10,98.19L686.49,98.10L686.88,97.99L687.28,97.87L687.67,97.74L688.06,97.59L688.46,97.44L688.85,97.27L689.24,97.10L689.64,96.93L690.03,96.76L690.42,96.59L690.81,96.43L691.21,96.28L691.60,96.13L691.99,96.00L692.39,95.89L692.78,95.78L693.17,95.69L693.57,95.61L693.96,95.55L694.35,95.49L694.74,95.44L695.14,95.40L695.53,95.36L695.92,95.33L696.32,95.30L696.71,95.27L697.10,95.25L697.50,95.23L697.89,95.20L698.28,95.18L698.67,95.16L699.07,95.15L699.46,95.13L699.85,95.11L700.25,95.10L700.64,95.08L701.03,95.07L701.43,95.05L701.82,95.04L702.21,95.03L702.60,95.02L703.00,95.01L703.39,95.00L703.78,94.98L704.18,94.97L704.57,94.96L704.96,94.95L705.36,94.94L705.75,94.93L706.14,94.92L706.53,94.91L706.93,94.90L707.32,94.89L707.71,94.88L708.11,94.87L708.50,94.86L708.89,94.85L709.29,94.83L709.68,94.82L710.07,94.81L710.46,94.79L710.86,94.78L711.25,94.76L711.64,94.75L712.04,94.73L712.43,94.71L712.82,94.69L713.22,94.67L713.61,94.65L714.00,94.63L714.39,94.60L714.79,94.57L715.18,94.54L715.57,94.51L715.97,94.47L716.36,94.43L716.75,94.38L717.15,94.33L717.54,94.27L717.93,94.21L718.32,94.14L718.72,94.06L719.11,93.98L719.50,93.90L719.90,93.81L720.29,93.73L720.68,93.64L721.08,93.55L721.47,93.47L721.86,93.39L722.25,93.31L722.65,93.24L723.04,93.18L723.43,93.12L723.83,93.07L724.22,93.03L724.61,93.00L725.01,92.97L725.40,92.94L725.79,92.93L726.18,92.91L726.58,92.90L726.97,92.89L727.36,92.89L727.76,92.88L728.15,92.88L728.54,92.87L728.93,92.87L729.33,92.87L729.72,92.86L730.11,92.86L730.51,92.86L730.90,92.85L731.29,92.85L731.69,92.85L732.08,92.84L732.47,92.84L732.86,92.84L733.26,92.84L733.65,92.84L734.04,92.83L734.44,92.83L734.83,92.83L735.22,92.83L735.62,92.83L736.01,92.82L736.40,92.82L736.79,92.82L737.19,92.82L737.58,92.82L737.97,92.82L738.37,92.81L738.76,92.81L739.15,92.81L739.55,92.81L739.94,92.81L740.33,92.81L740.72,92.81L741.12,92.81L741.51,92.80L741.90,92.80L742.30,92.80L742.69,92.80L743.08,92.80L743.48,92.80L743.87,92.80L744.26,92.79L744.65,92.79L745.05,92.79L745.44,92.79L745.83,92.79L746.23,92.79L746.62,92.79L747.01,92.78L747.41,92.78L747.80,92.78L748.19,92.78L748.58,92.78L748.98,92.78L749.37,92.77L749.76,92.77L750.16,92.77L750.55,92.77L750.94,92.77L751.34,92.77L751.73,92.76L752.12,92.76L752.51,92.76L752.91,92.76L753.30,92.76L753.69,92.76L754.09,92.76L754.48,92.75L754.87,92.75L755.27,92.75L755.66,92.75L756.05,92.75L756.44,92.75L756.84,92.74L757.23,92.74L757.62,92.74L758.02,92.74L758.41,92.74L758.80,92.74L759.20,92.74L759.59,92.73L759.98,92.73L760.37,92.73L760.77,92.73L761.16,92.73L761.55,92.73L761.95,92.73L762.34,92.73L762.73,92.72L763.13,92.72L763.52,92.72L763.91,92.72L764.30,92.72L764.70,92.72L765.09,92.72L765.48,92.71L765.88,92.71L766.27,92.71L766.66,92.71L767.06,92.71L767.45,92.71L767.84,92.71L768.23,92.71L768.63,92.70L769.02,92.70L769.41,92.70L769.81,92.70L770.20,92.70L770.59,92.70L770.98,92.70L771.38,92.69L771.77,92.69L772.16,92.69L772.56,92.69L772.95,92.69L773.34,92.69L773.74,92.69L774.13,92.69L774.52,92.68L774.91,92.68L775.31,92.68L775.70,92.68L776.09,92.68L776.49,92.68L776.88,92.68L777.27,92.67L777.67,92.67L778.06,92.67L778.45,92.67L778.84,92.67L779.24,92.67L779.63,92.67L780.02,92.66L780.42,92.66L780.81,92.66L781.20,92.66L781.60,92.66L781.99,92.66L782.38,92.66L782.77,92.65L783.17,92.65L783.56,92.65L783.95,92.65L784.35,92.65L784.74,92.65L785.13,92.65L785.53,92.64L785.92,92.64L786.31,92.64L786.70,92.64L787.10,92.64L787.49,92.64L787.88,92.63L788.28,92.63L788.67,92.63L789.06,92.63L789.46,92.63L789.85,92.63L790.24,92.63L790.63,92.62L791.03,92.62L791.42,92.62L791.81,92.62L792.21,92.62L792.60,92.62L792.99,92.61L793.39,92.61L793.78,92.61L794.17,92.61L794.56,92.61L794.96,92.61L795.35,92.60L795.74,92.60L796.14,92.60L796.53,92.60L796.92,92.60L797.32,92.60L797.71,92.60L798.10,92.59L798.49,92.59L798.89,92.59L799.28,92.59L799.67,92.59L800.07,92.59L800.46,92.58L800.85,92.58L801.25,92.58L801.64,92.58L802.03,92.58L802.42,92.58L802.82,92.57L803.21,92.57L803.60,92.57L804.00,92.57L804.39,92.57L804.78,92.57L805.18,92.56L805.57,92.56L805.96,92.56L806.35,92.56L806.75,92.56L807.14,92.56L807.53,92.55L807.93,92.55L808.32,92.55L808.71,92.55L809.11,92.55L809.50,92.55L809.89,92.54L810.28,92.54L810.68,92.54L811.07,92.54L811.46,92.54L811.86,92.54L812.25,92.53L812.64,92.53L813.04,92.53L813.43,92.53L813.82,92.53L814.21,92.53L814.61,92.52L815.00,92.52"/>
<path class="c" stroke="#008cff" d="M501.00,207.10L501.39,201.39L501.79,195.83L502.18,190.52L502.57,185.57L502.96,181.02L503.36,176.92L503.75,173.30L504.14,170.20L504.54,167.63L504.93,165.57L505.32,163.98L505.72,162.78L506.11,161.89L506.50,161.23L506.89,160.72L507.29,160.34L507.68,160.04L508.07,159.81L508.47,159.63L508.86,159.49L509.25,159.37L509.65,159.29L510.04,159.23L510.43,159.18L510.82,159.15L511.22,159.12L511.61,159.10L512.00,159.08L512.40,159.06L512.79,159.05L513.18,159.03L513.58,159.02L513.97,159.01L514.36,159.00L514.75,158.99L515.15,158.98L515.54,158.97L515.93,158.97L516.33,158.96L516.72,158.95L517.11,158.95L517.51,158.94L517.90,158.94L518.29,158.93L518.68,158.93L519.08,158.93L519.47,158.92L519.86,158.92L520.26,158.91L520.65,158.91L521.04,158.90L521.44,158.90L521.83,158.89L522.22,158.88L522.61,158.87L523.01,158.87L523.40,158.86L523.79,158.85L524.19,158.83L524.58,158.82L524.97,158.81L525.37,158.79L525.76,158.77L526.15,158.74L526.54,158.68L526.94,158.57L527.33,158.39L527.72,158.09L528.12,157.64L528.51,156.99L528.90,156.12L529.30,155.02L529.69,153.70L530.08,152.17L530.47,150.47L530.87,148.61L531.26,146.63L531.65,144.56L532.05,142.43L532.44,140.27L532.83,138.11L533.23,135.99L533.62,133.93L534.01,131.97L534.40,130.13L534.80,128.45L535.19,126.95L535.58,125.66L535.98,124.59L536.37,123.75L536.76,123.12L537.16,122.68L537.55,122.39L537.94,122.21L538.33,122.10L538.73,122.03L539.12,121.98L539.51,121.94L539.91,121.91L540.30,121.88L540.69,121.85L541.09,121.83L541.48,121.80L541.87,121.78L542.26,121.76L542.66,121.74L543.05,121.73L543.44,121.71L543.84,121.70L544.23,121.68L544.62,121.67L545.02,121.66L545.41,121.65L545.80,121.64L546.19,121.63L546.59,121.62L546.98,121.61L547.37,121.60L547.77,121.59L548.16,121.59L548.55,121.58L548.94,121.57L549.34,121.56L549.73,121.55L550.12,121.54L550.52,121.53L550.91,121.53L551.30,121.51L551.70,121.50L552.09,121.49L552.48,121.48L552.87,121.46L553.27,121.45L553.66,121.43L554.05,121.42L554.45,121.40L554.84,121.38L555.23,121.35L555.63,121.33L556.02,121.30L556.41,121.28L556.80,121.25L557.20,121.21L557.59,121.18L557.98,121.13L558.38,121.07L558.77,120.98L559.16,120.84L559.56,120.64L559.95,120.35L560.34,119.96L560.73,119.47L561.13,118.86L561.52,118.14L561.91,117.32L562.31,116.43L562.70,115.47L563.09,114.45L563.49,113.40L563.88,112.34L564.27,111.26L564.66,110.21L565.06,109.18L565.45,108.19L565.84,107.27L566.24,106.43L566.63,105.67L567.02,105.02L567.42,104.48L567.81,104.05L568.20,103.73L568.59,103.50L568.99,103.35L569.38,103.25L569.77,103.18L570.17,103.13L570.56,103.09L570.95,103.06L571.35,103.04L571.74,103.01L572.13,102.99L572.52,102.96L572.92,102.94L573.31,102.93L573.70,102.91L574.10,102.89L574.49,102.88L574.88,102.86L575.28,102.85L575.67,102.84L576.06,102.83L576.45,102.82L576.85,102.81L577.24,102.80L577.63,102.79L578.03,102.78L578.42,102.77L578.81,102.76L579.21,102.76L579.60,102.75L579.99,102.74L580.38,102.74L580.78,102.73L581.17,102.72L581.56,102.71L581.96,102.71L582.35,102.70L582.74,102.69L583.14,102.68L583.53,102.67L583.92,102.66L584.31,102.64L584.71,102.63L585.10,102.62L585.49,102.60L585.89,102.58L586.28,102.57L586.67,102.55L587.07,102.52L587.46,102.50L587.85,102.48L588.24,102.45L588.64,102.42L589.03,102.38L589.42,102.34L589.82,102.29L590.21,102.21L590.60,102.11L590.99,101.98L591.39,101.79L591.78,101.54L592.17,101.23L592.57,100.86L592.96,100.42L593.35,99.93L593.75,99.39L594.14,98.82L594.53,98.22L594.92,97.60L595.32,96.98L595.71,96.36L596.10,95.76L596.50,95.19L596.89,94.66L597.28,94.18L597.68,93.76L598.07,93.39L598.46,93.09L598.85,92.86L599.25,92.68L599.64,92.54L600.03,92.45L600.43,92.38L600.82,92.33L601.21,92.29L601.61,92.26L602.00,92.23L602.39,92.21L602.78,92.19L603.18,92.17L603.57,92.16L603.96,92.14L604.36,92.13L604.75,92.12L605.14,92.10L605.54,92.09L605.93,92.08L606.32,92.07L606.71,92.06L607.11,92.06L607.50,92.05L607.89,92.04L608.29,92.03L608.68,92.03L609.07,92.02L609.47,92.02L609.86,92.01L610.25,92.01L610.64,92.00L611.04,91.99L611.43,91.99L611.82,91.98L612.22,91.98L612.61,91.97L613.00,91.97L613.40,91.96L613.79,91.95L614.18,91.95L614.57,91.94L614.97,91.93L615.36,91.92L615.75,91.91L616.15,91.90L616.54,91.89L616.93,91.88L617.33,91.87L617.72,91.85L618.11,91.84L618.50,91.82L618.90,91.81L619.29,91.79L619.68,91.77L620.08,91.74L620.47,91.71L620.86,91.68L621.26,91.63L621.65,91.58L622.04,91.50L622.43,91.41L622.83,91.29L623.22,91.14L623.61,90.96L624.01,90.75L624.40,90.52L624.79,90.25L625.19,89.96L625.58,89.65L625.97,89.33L626.36,89.01L626.76,88.68L627.15,88.35L627.54,88.04L627.94,87.74L628.33,87.46L628.72,87.21L629.12,86.98L629.51,86.79L629.90,86.62L630.29,86.49L630.69,86.38L631.08,86.30L631.47,86.23L631.87,86.18L632.26,86.15L632.65,86.12L633.05,86.09L633.44,86.08L633.83,86.06L634.22,86.05L634.62,86.03L635.01,86.02L635.40,86.01L635.80,86.00L636.19,86.00L636.58,85.99L636.97,85.98L637.37,85.97L637.76,85.97L638.15,85.96L638.55,85.96L638.94,85.95L639.33,85.95L639.73,85.94L640.12,85.94L640.51,85.93L640.90,85.93L641.30,85.93L641.69,85.92L642.08,85.92L642.48,85.91L642.87,85.91L643.26,85.91L643.66,85.90L644.05,85.90L644.44,85.90L644.83,85.89L645.23,85.89L645.62,85.88L646.01,85.88L646.41,85.87L646.80,85.86L647.19,85.86L647.59,85.85L647.98,85.84L648.37,85.84L648.76,85.83L649.16,85.82L649.55,85.81L649.94,85.80L650.34,85.78L650.73,85.77L651.12,85.75L651.52,85.74L651.91,85.71L652.30,85.68L652.69,85.64L653.09,85.60L653.48,85.53L653.87,85.46L654.27,85.36L654.66,85.25L655.05,85.12L655.45,84.96L655.84,84.79L656.23,84.60L656.62,84.39L657.02,84.17L657.41,83.94L657.80,83.71L658.20,83.48L658.59,83.25L658.98,83.03L659.38,82.82L659.77,82.62L660.16,82.44L660.55,82.28L660.95,82.13L661.34,82.01L661.73,81.91L662.13,81.82L662.52,81.76L662.91,81.70L663.31,81.66L663.70,81.63L664.09,81.61L664.48,81.59L664.88,81.57L665.27,81.56L665.66,81.55L666.06,81.54L666.45,81.53L666.84,81.52L667.24,81.52L667.63,81.51L668.02,81.50L668.41,81.50L668.81,81.49L669.20,81.49L669.59,81.49L669.99,81.48L670.38,81.48L670.77,81.47L671.17,81.47L671.56,81.47L671.95,81.46L672.34,81.46L672.74,81.46L673.13,81.46L673.52,81.45L673.92,81.45L674.31,81.45L674.70,81.44L675.10,81.44L675.49,81.44L675.88,81.44L676.27,81.43L676.67,81.43L677.06,81.42L677.45,81.42L677.85,81.42L678.24,81.41L678.63,81.41L679.03,81.40L679.42,81.40L679.81,81.39L680.20,81.38L680.60,81.38L680.99,81.37L681.38,81.36L681.78,81.35L682.17,81.34L682.56,81.33L682.95,81.31L683.35,81.29L683.74,81.27L684.13,81.23L684.53,81.19L684.92,81.14L685.31,81.07L685.71,80.99L686.10,80.89L686.49,80.78L686.88,80.65L687.28,80.50L687.67,80.33L688.06,80.16L688.46,79.97L688.85,79.77L689.24,79.57L689.64,79.37L690.03,79.17L690.42,78.98L690.81,78.79L691.21,78.62L691.60,78.46L691.99,78.31L692.39,78.19L692.78,78.08L693.17,77.98L693.57,77.90L693.96,77.84L694.35,77.78L694.74,77.74L695.14,77.71L695.53,77.68L695.92,77.65L696.32,77.63L696.71,77.61L697.10,77.59L697.50,77.58L697.89,77.56L698.28,77.55L698.67,77.54L699.07,77.53L699.46,77.51L699.85,77.50L700.25,77.49L700.64,77.48L701.03,77.47L701.43,77.47L701.82,77.46L702.21,77.45L702.60,77.44L703.00,77.43L703.39,77.43L703.78,77.42L704.18,77.41L704.57,77.41L704.96,77.40L705.36,77.39L705.75,77.39L706.14,77.38L706.53,77.38L706.93,77.37L707.32,77.36L707.71,77.36L708.11,77.35L708.50,77.34L708.89,77.34L709.29,77.33L709.68,77.32L710.07,77.31L710.46,77.31L710.86,77.30L711.25,77.29L711.64,77.28L712.04,77.27L712.43,77.26L712.82,77.25L713.22,77.24L713.61,77.22L714.00,77.21L714.39,77.20L714.79,77.18L715.18,77.16L715.57,77.14L715.97,77.12L716.36,77.10L716.75,77.07L717.15,77.05L717.54,77.01L717.93,76.98L718.32,76.94L718.72,76.91L719.11,76.86L719.50,76.82L719.90,76.78L720.29,76.73L720.68,76.69L721.08,76.65L721.47,76.61L721.86,76.57L722.25,76.53L722.65,76.50L723.04,76.46L723.43,76.44L723.83,76.41L724.22,76.40L724.61,76.38L725.01,76.37L725.40,76.36L725.79,76.35L726.18,76.35L726.58,76.34L726.97,76.34L727.36,76.34L727.76,76.34L728.15,76.34L728.54,76.34L728.93,76.34L729.33,76.34L729.72,76.34L730.11,76.34L730.51,76.34L730.90,76.34L731.29,76.34L731.69,76.34L732.08,76.34L732.47,76.34L732.86,76.34L733.26,76.34L733.65,76.34L734.04,76.34L734.44,76.34L734.83,76.34L735.22,76.34L735.62,76.34L736.01,76.34L736.40,76.34L736.79,76.34L737.19,76.34L737.58,76.34L737.97,76.34L738.37,76.34L738.76,76.34L739.15,76.34L739.55,76.34L739.94,76.34L740.33,76.34L740.72,76.34L741.12,76.34L741.51,76.34L741.90,76.34L742.30,76.34L742.69,76.34L743.08,76.34L743.48,76.34L743.87,76.34L744.26,76.34L744.65,76.34L745.05,76.34L745.44,76.34L745.83,76.34L746.23,76.34L746.62,76.35L747.01,76.35L747.41,76.36L747.80,76.37L748.19,76.38L748.58,76.40L748.98,76.42L749.37,76.44L749.76,76.47L750.16,76.50L750.55,76.54L750.94,76.58L751.34,76.62L751.73,76.66L752.12,76.71L752.51,76.75L752.91,76.80L753.30,76.84L753.69,76.88L754.09,76.92L754.48,76.96L754.87,76.99L755.27,77.02L755.66,77.05L756.05,77.07L756.44,77.09L756.84,77.11L757.23,77.12L757.62,77.13L758.02,77.14L758.41,77.15L758.80,77.16L759.20,77.17L759.59,77.18L759.98,77.18L760.37,77.19L760.77,77.19L761.16,77.20L761.55,77.20L761.95,77.21L762.34,77.21L762.73,77.22L763.13,77.22L763.52,77.23L763.91,77.23L764.30,77.23L764.70,77.24L765.09,77.24L765.48,77.24L765.88,77.25L766.27,77.25L766.66,77.25L767.06,77.26L767.45,77.26L767.84,77.26L768.23,77.27L768.63,77.27L769.02,77.27L769.41,77.27L769.81,77.28L770.20,77.28L770.59,77.28L770.98,77.28L771.38,77.29L771.77,77.29L772.16,77.29L772.56,77.30L772.95,77.30L773.34,77.30L773.74,77.31L774.13,77.31L774.52,77.31L774.91,77.32L775.31,77.32L775.70,77.33L776.09,77.33L776.49,77.34L776.88,77.34L777.27,77.35L777.67,77.35L778.06,77.36L778.45,77.36L778.84,77.37L779.24,77.38L779.63,77.38L780.02,77.39L780.42,77.40L780.81,77.41L781.20,77.42L781.60,77.43L781.99,77.44L782.38,77.45L782.77,77.46L783.17,77.47L783.56,77.49L783.95,77.50L784.35,77.51L784.74,77.52L785.13,77.53L785.53,77.54L785.92,77.55L786.31,77.57L786.70,77.58L787.10,77.59L787.49,77.60L787.88,77.60L788.28,77.61L788.67,77.62L789.06,77.63L789.46,77.64L789.85,77.64L790.24,77.65L790.63,77.66L791.03,77.66L791.42,77.67L791.81,77.67L792.21,77.68L792.60,77.69L792.99,77.69L793.39,77.70L793.78,77.70L794.17,77.71L794.56,77.72L794.96,77.72L795.35,77.73L795.74,77.73L796.14,77.74L796.53,77.74L796.92,77.75L797.32,77.75L797.71,77.76L798.10,77.76L798.49,77.77L798.89,77.77L799.28,77.78L799.67,77.78L800.07,77.79L800.46,77.79L800.85,77.80L801.25,77.80L801.64,77.81L802.03,77.81L802.42,77.82L802.82,77.82L803.21,77.82L803.60,77.83L804.00,77.83L804.39,77.84L804.78,77.84L805.18,77.84L805.57,77.85L805.96,77.85L806.35,77.85L806.75,77.86L807.14,77.86L807.53,77.86L807.93,77.87L808.32,77.87L808.71,77.87L809.11,77.87L809.50,77.88L809.89,77.88L810.28,77.88L810.68,77.88L811.07,77.88L811.46,77.88L811.86,77.89L812.25,77.89L812.64,77.89L813.04,77.89L813.43,77.89L813.82,77.89L814.21,77.89L814.61,77.89L815.00,77.89"/>
<path class="c" stroke="#0a0aff" d="M501.00,207.10L501.39,201.26L501.79,195.56L502.18,190.11L502.57,184.98L502.96,180.25L503.36,175.95L503.75,172.14L504.14,168.84L504.54,166.09L504.93,163.88L505.32,162.16L505.72,160.85L506.11,159.88L506.50,159.14L506.89,158.59L507.29,158.16L507.68,157.83L508.07,157.57L508.47,157.36L508.86,157.20L509.25,157.07L509.65,156.97L510.04,156.89L510.43,156.83L510.82,156.78L511.22,156.74L511.61,156.70L512.00,156.67L512.40,156.65L512.79,156.62L513.18,156.60L513.58,156.57L513.97,156.56L514.36,156.54L514.75,156.52L515.15,156.51L515.54,156.49L515.93,156.48L516.33,156.47L516.72,156.46L517.11,156.45L517.51,156.44L517.90,156.43L518.29,156.42L518.68,156.41L519.08,156.40L519.47,156.40L519.86,156.39L520.26,156.38L520.65,156.37L521.04,156.36L521.44,156.35L521.83,156.34L522.22,156.32L522.61,156.31L523.01,156.29L523.40,156.27L523.79,156.26L524.19,156.24L524.58,156.21L524.97,156.19L525.37,156.16L525.76,156.12L526.15,156.07L526.54,155.99L526.94,155.86L527.33,155.64L527.72,155.28L528.12,154.74L528.51,153.97L528.90,152.95L529.30,151.67L529.69,150.13L530.08,148.35L530.47,146.36L530.87,144.20L531.26,141.90L531.65,139.50L532.05,137.03L532.44,134.52L532.83,132.02L533.23,129.56L533.62,127.17L534.01,124.90L534.40,122.78L534.80,120.83L535.19,119.11L535.58,117.62L535.98,116.39L536.37,115.43L536.76,114.72L537.16,114.22L537.55,113.90L537.94,113.70L538.33,113.59L538.73,113.52L539.12,113.48L539.51,113.45L539.91,113.42L540.30,113.40L540.69,113.38L541.09,113.36L541.48,113.34L541.87,113.32L542.26,113.31L542.66,113.29L543.05,113.28L543.44,113.27L543.84,113.26L544.23,113.25L544.62,113.24L545.02,113.23L545.41,113.22L545.80,113.21L546.19,113.20L546.59,113.20L546.98,113.19L547.37,113.18L547.77,113.18L548.16,113.17L548.55,113.17L548.94,113.16L549.34,113.15L549.73,113.15L550.12,113.14L550.52,113.13L550.91,113.13L551.30,113.12L551.70,113.11L552.09,113.10L552.48,113.09L552.87,113.08L553.27,113.07L553.66,113.06L554.05,113.04L554.45,113.03L554.84,113.01L555.23,112.99L555.63,112.97L556.02,112.95L556.41,112.93L556.80,112.91L557.20,112.88L557.59,112.85L557.98,112.81L558.38,112.75L558.77,112.66L559.16,112.51L559.56,112.29L559.95,111.96L560.34,111.52L560.73,110.94L561.13,110.23L561.52,109.39L561.91,108.43L562.31,107.38L562.70,106.24L563.09,105.05L563.49,103.81L563.88,102.55L564.27,101.28L564.66,100.03L565.06,98.82L565.45,97.66L565.84,96.57L566.24,95.57L566.63,94.69L567.02,93.92L567.42,93.29L567.81,92.79L568.20,92.42L568.59,92.16L568.99,91.99L569.38,91.87L569.77,91.80L570.17,91.76L570.56,91.72L570.95,91.69L571.35,91.67L571.74,91.65L572.13,91.63L572.52,91.61L572.92,91.59L573.31,91.57L573.70,91.56L574.10,91.54L574.49,91.53L574.88,91.52L575.28,91.51L575.67,91.50L576.06,91.49L576.45,91.48L576.85,91.47L577.24,91.46L577.63,91.46L578.03,91.45L578.42,91.44L578.81,91.44L579.21,91.43L579.60,91.42L579.99,91.42L580.38,91.41L580.78,91.40L581.17,91.40L581.56,91.39L581.96,91.38L582.35,91.38L582.74,91.37L583.14,91.36L583.53,91.35L583.92,91.34L584.31,91.33L584.71,91.32L585.10,91.31L585.49,91.29L585.89,91.28L586.28,91.26L586.67,91.25L587.07,91.23L587.46,91.21L587.85,91.18L588.24,91.16L588.64,91.13L589.03,91.10L589.42,91.06L589.82,91.00L590.21,90.93L590.60,90.83L590.99,90.68L591.39,90.47L591.78,90.20L592.17,89.86L592.57,89.44L592.96,88.95L593.35,88.40L593.75,87.79L594.14,87.14L594.53,86.46L594.92,85.76L595.32,85.06L595.71,84.36L596.10,83.68L596.50,83.04L596.89,82.43L597.28,81.88L597.68,81.40L598.07,80.98L598.46,80.64L598.85,80.36L599.25,80.16L599.64,80.00L600.03,79.89L600.43,79.81L600.82,79.74L601.21,79.70L601.61,79.66L602.00,79.62L602.39,79.59L602.78,79.57L603.18,79.54L603.57,79.52L603.96,79.50L604.36,79.49L604.75,79.47L605.14,79.45L605.54,79.44L605.93,79.42L606.32,79.41L606.71,79.40L607.11,79.39L607.50,79.38L607.89,79.37L608.29,79.36L608.68,79.35L609.07,79.34L609.47,79.33L609.86,79.33L610.25,79.32L610.64,79.31L611.04,79.31L611.43,79.30L611.82,79.29L612.22,79.28L612.61,79.28L613.00,79.27L613.40,79.26L613.79,79.25L614.18,79.24L614.57,79.23L614.97,79.22L615.36,79.21L615.75,79.19L616.15,79.18L616.54,79.17L616.93,79.15L617.33,79.13L617.72,79.12L618.11,79.10L618.50,79.08L618.90,79.05L619.29,79.03L619.68,79.00L620.08,78.97L620.47,78.93L620.86,78.88L621.26,78.82L621.65,78.75L622.04,78.66L622.43,78.54L622.83,78.39L623.22,78.20L623.61,77.97L624.01,77.70L624.40,77.40L624.79,77.06L625.19,76.69L625.58,76.30L625.97,75.89L626.36,75.47L626.76,75.05L627.15,74.64L627.54,74.23L627.94,73.85L628.33,73.49L628.72,73.16L629.12,72.86L629.51,72.61L629.90,72.39L630.29,72.21L630.69,72.06L631.08,71.94L631.47,71.85L631.87,71.78L632.26,71.72L632.65,71.67L633.05,71.63L633.44,71.60L633.83,71.57L634.22,71.55L634.62,71.52L635.01,71.50L635.40,71.48L635.80,71.46L636.19,71.45L636.58,71.43L636.97,71.41L637.37,71.40L637.76,71.39L638.15,71.37L638.55,71.36L638.94,71.35L639.33,71.34L639.73,71.33L640.12,71.32L640.51,71.31L640.90,71.30L641.30,71.30L641.69,71.29L642.08,71.28L642.48,71.27L642.87,71.26L643.26,71.25L643.66,71.25L644.05,71.24L644.44,71.23L644.83,71.22L645.23,71.21L645.62,71.20L646.01,71.19L646.41,71.18L646.80,71.17L647.19,71.15L647.59,71.14L647.98,71.12L648.37,71.11L648.76,71.09L649.16,71.07L649.55,71.05L649.94,71.03L650.34,71.01L650.73,70.99L651.12,70.96L651.52,70.93L651.91,70.89L652.30,70.85L652.69,70.80L653.09,70.74L653.48,70.66L653.87,70.58L654.27,70.47L654.66,70.35L655.05,70.21L655.45,70.05L655.84,69.87L656.23,69.68L656.62,69.47L657.02,69.25L657.41,69.03L657.80,68.80L658.20,68.57L658.59,68.34L658.98,68.12L659.38,67.91L659.77,67.72L660.16,67.54L660.55,67.38L660.95,67.24L661.34,67.12L661.73,67.01L662.13,66.93L662.52,66.86L662.91,66.80L663.31,66.76L663.70,66.72L664.09,66.70L664.48,66.68L664.88,66.66L665.27,66.64L665.66,66.63L666.06,66.62L666.45,66.61L666.84,66.60L667.24,66.59L667.63,66.58L668.02,66.57L668.41,66.56L668.81,66.56L669.20,66.55L669.59,66.54L669.99,66.54L670.38,66.53L670.77,66.53L671.17,66.52L671.56,66.52L671.95,66.51L672.34,66.51L672.74,66.51L673.13,66.50L673.52,66.50L673.92,66.49L674.31,66.49L674.70,66.49L675.10,66.48L675.49,66.48L675.88,66.47L676.27,66.47L676.67,66.46L677.06,66.46L677.45,66.45L677.85,66.45L678.24,66.44L678.63,66.44L679.03,66.43L679.42,66.42L679.81,66.41L680.20,66.40L680.60,66.39L680.99,66.38L681.38,66.37L681.78,66.36L682.17,66.35L682.56,66.33L682.95,66.31L683.35,66.29L683.74,66.27L684.13,66.23L684.53,66.19L684.92,66.14L685.31,66.08L685.71,66.01L686.10,65.92L686.49,65.82L686.88,65.70L687.28,65.57L687.67,65.43L688.06,65.28L688.46,65.11L688.85,64.95L689.24,64.78L689.64,64.60L690.03,64.44L690.42,64.27L690.81,64.12L691.21,63.97L691.60,63.84L691.99,63.72L692.39,63.61L692.78,63.52L693.17,63.45L693.57,63.38L693.96,63.33L694.35,63.29L694.74,63.26L695.14,63.23L695.53,63.21L695.92,63.20L696.32,63.18L696.71,63.17L697.10,63.16L697.50,63.15L697.89,63.14L698.28,63.14L698.67,63.13L699.07,63.12L699.46,63.12L699.85,63.11L700.25,63.11L700.64,63.10L701.03,63.10L701.43,63.09L701.82,63.09L702.21,63.08L702.60,63.08L703.00,63.07L703.39,63.07L703.78,63.07L704.18,63.06L704.57,63.06L704.96,63.06L705.36,63.05L705.75,63.05L706.14,63.05L706.53,63.05L706.93,63.04L707.32,63.04L707.71,63.04L708.11,63.03L708.50,63.03L708.89,63.02L709.29,63.02L709.68,63.01L710.07,63.01L710.46,63.00L710.86,63.00L711.25,62.99L711.64,62.99L712.04,62.98L712.43,62.97L712.82,62.97L713.22,62.96L713.61,62.95L714.00,62.94L714.39,62.93L714.79,62.92L715.18,62.90L715.57,62.88L715.97,62.87L716.36,62.84L716.75,62.82L717.15,62.79L717.54,62.75L717.93,62.71L718.32,62.67L718.72,62.62L719.11,62.57L719.50,62.51L719.90,62.45L720.29,62.39L720.68,62.33L721.08,62.27L721.47,62.22L721.86,62.16L722.25,62.11L722.65,62.06L723.04,62.02L723.43,61.98L723.83,61.95L724.22,61.92L724.61,61.90L725.01,61.88L725.40,61.87L725.79,61.86L726.18,61.85L726.58,61.85L726.97,61.84L727.36,61.84L727.76,61.84L728.15,61.84L728.54,61.84L728.93,61.84L729.33,61.84L729.72,61.84L730.11,61.84L730.51,61.84L730.90,61.84L731.29,61.84L731.69,61.84L732.08,61.84L732.47,61.84L732.86,61.84L733.26,61.84L733.65,61.84L734.04,61.84L734.44,61.84L734.83,61.84L735.22,61.84L735.62,61.84L736.01,61.84L736.40,61.84L736.79,61.84L737.19,61.84L737.58,61.84L737.97,61.84L738.37,61.84L738.76,61.84L739.15,61.84L739.55,61.84L739.94,61.84L740.33,61.84L740.72,61.84L741.12,61.84L741.51,61.84L741.90,61.84L742.30,61.84L742.69,61.84L743.08,61.84L743.48,61.84L743.87,61.84L744.26,61.84L744.65,61.84L745.05,61.84L745.44,61.84L745.83,61.84L746.23,61.84L746.62,61.85L747.01,61.85L747.41,61.86L747.80,61.87L748.19,61.89L748.58,61.91L748.98,61.93L749.37,61.96L749.76,61.99L750.16,62.03L750.55,62.07L750.94,62.12L751.34,62.17L751.73,62.22L752.12,62.27L752.51,62.32L752.91,62.38L753.30,62.43L753.69,62.48L754.09,62.52L754.48,62.56L754.87,62.60L755.27,62.64L755.66,62.67L756.05,62.69L756.44,62.71L756.84,62.73L757.23,62.75L757.62,62.76L758.02,62.77L758.41,62.78L758.80,62.79L759.20,62.80L759.59,62.81L759.98,62.81L760.37,62.82L760.77,62.82L761.16,62.83L761.55,62.83L761.95,62.84L762.34,62.84L762.73,62.85L763.13,62.85L763.52,62.86L763.91,62.86L764.30,62.86L764.70,62.87L765.09,62.87L765.48,62.87L765.88,62.88L766.27,62.88L766.66,62.88L767.06,62.89L767.45,62.89L767.84,62.89L768.23,62.90L768.63,62.90L769.02,62.90L769.41,62.90L769.81,62.91L770.20,62.91L770.59,62.91L770.98,62.91L771.38,62.92L771.77,62.92L772.16,62.92L772.56,62.93L772.95,62.93L773.34,62.93L773.74,62.94L774.13,62.94L774.52,62.94L774.91,62.95L775.31,62.95L775.70,62.96L776.09,62.96L776.49,62.97L776.88,62.97L777.27,62.98L777.67,62.98L778.06,62.99L778.45,62.99L778.84,63.00L779.24,63.01L779.63,63.01L780.02,63.02L780.42,63.03L780.81,63.04L781.20,63.05L781.60,63.06L781.99,63.07L782.38,63.08L782.77,63.10L783.17,63.11L783.56,63.12L783.95,63.13L784.35,63.14L784.74,63.16L785.13,63.17L785.53,63.18L785.92,63.19L786.31,63.20L786.70,63.21L787.10,63.22L787.49,63.23L787.88,63.24L788.28,63.24L788.67,63.25L789.06,63.26L789.46,63.26L789.85,63.27L790.24,63.27L790.63,63.28L791.03,63.28L791.42,63.28L791.81,63.29L792.21,63.29L792.60,63.29L792.99,63.30L793.39,63.30L793.78,63.30L794.17,63.31L794.56,63.31L794.96,63.31L795.35,63.31L795.74,63.32L796.14,63.32L796.53,63.32L796.92,63.33L797.32,63.33L797.71,63.33L798.10,63.33L798.49,63.34L798.89,63.34L799.28,63.34L799.67,63.34L800.07,63.35L800.46,63.35L800.85,63.35L801.25,63.35L801.64,63.35L802.03,63.36L802.42,63.36L802.82,63.36L803.21,63.36L803.60,63.36L804.00,63.37L804.39,63.37L804.78,63.37L805.18,63.37L805.57,63.37L805.96,63.37L806.35,63.38L806.75,63.38L807.14,63.38L807.53,63.38L807.93,63.38L808.32,63.38L808.71,63.38L809.11,63.38L809.50,63.39L809.89,63.39L810.28,63.39L810.68,63.39L811.07,63.39L811.46,63.39L811.86,63.39L812.25,63.39L812.64,63.39L813.04,63.39L813.43,63.39L813.82,63.39L814.21,63.39L814.61,63.39L815.00,63.39"/>
</g>
<text x="501.00" y="248.5" text-anchor="middle" class="t">0</text>
<text x="579.50" y="248.5" text-anchor="middle" class="t">5</text>
<text x="657.05" y="248.5" text-anchor="middle" class="t" letter-spacing="-0.9">10</text>
<text x="734.85" y="248.5" text-anchor="middle" class="t" letter-spacing="-0.9">15</text>
<text x="813.35" y="248.5" text-anchor="middle" class="t" letter-spacing="-0.9">20</text>
<text x="477.10" y="214.50" text-anchor="end" class="t">0</text>
<text x="477.80" y="149.77" text-anchor="end" class="t" letter-spacing="0.7">0.5</text>
<text x="478.70" y="85.03" text-anchor="end" class="t">1</text>
<text x="477.10" y="20.30" text-anchor="end" class="t">1.5</text>
<g class="ti">
<text transform="translate(613.40,293.4) scale(0.9,1)">e</text>
<text x="624.90" y="293.4">V</text>
<text x="640.60" y="297.79999999999995" class="sub">sd</text>
<text transform="translate(660.80,299.09999999999997) scale(1.0,1.27)" class="sl">/</text>
<text x="669.70" y="293.4">ħ</text>
<text transform="translate(686.30,293.4) scale(0.95,1)">ω</text>
</g>
<text class="ti" text-anchor="middle" transform="translate(420.60,110.39999999999999) rotate(-90)">I</text>
<text transform="translate(524.40,49.9) scale(1.0,1.03)" class="pl">(b)</text>
</g>
</svg></body></html>
